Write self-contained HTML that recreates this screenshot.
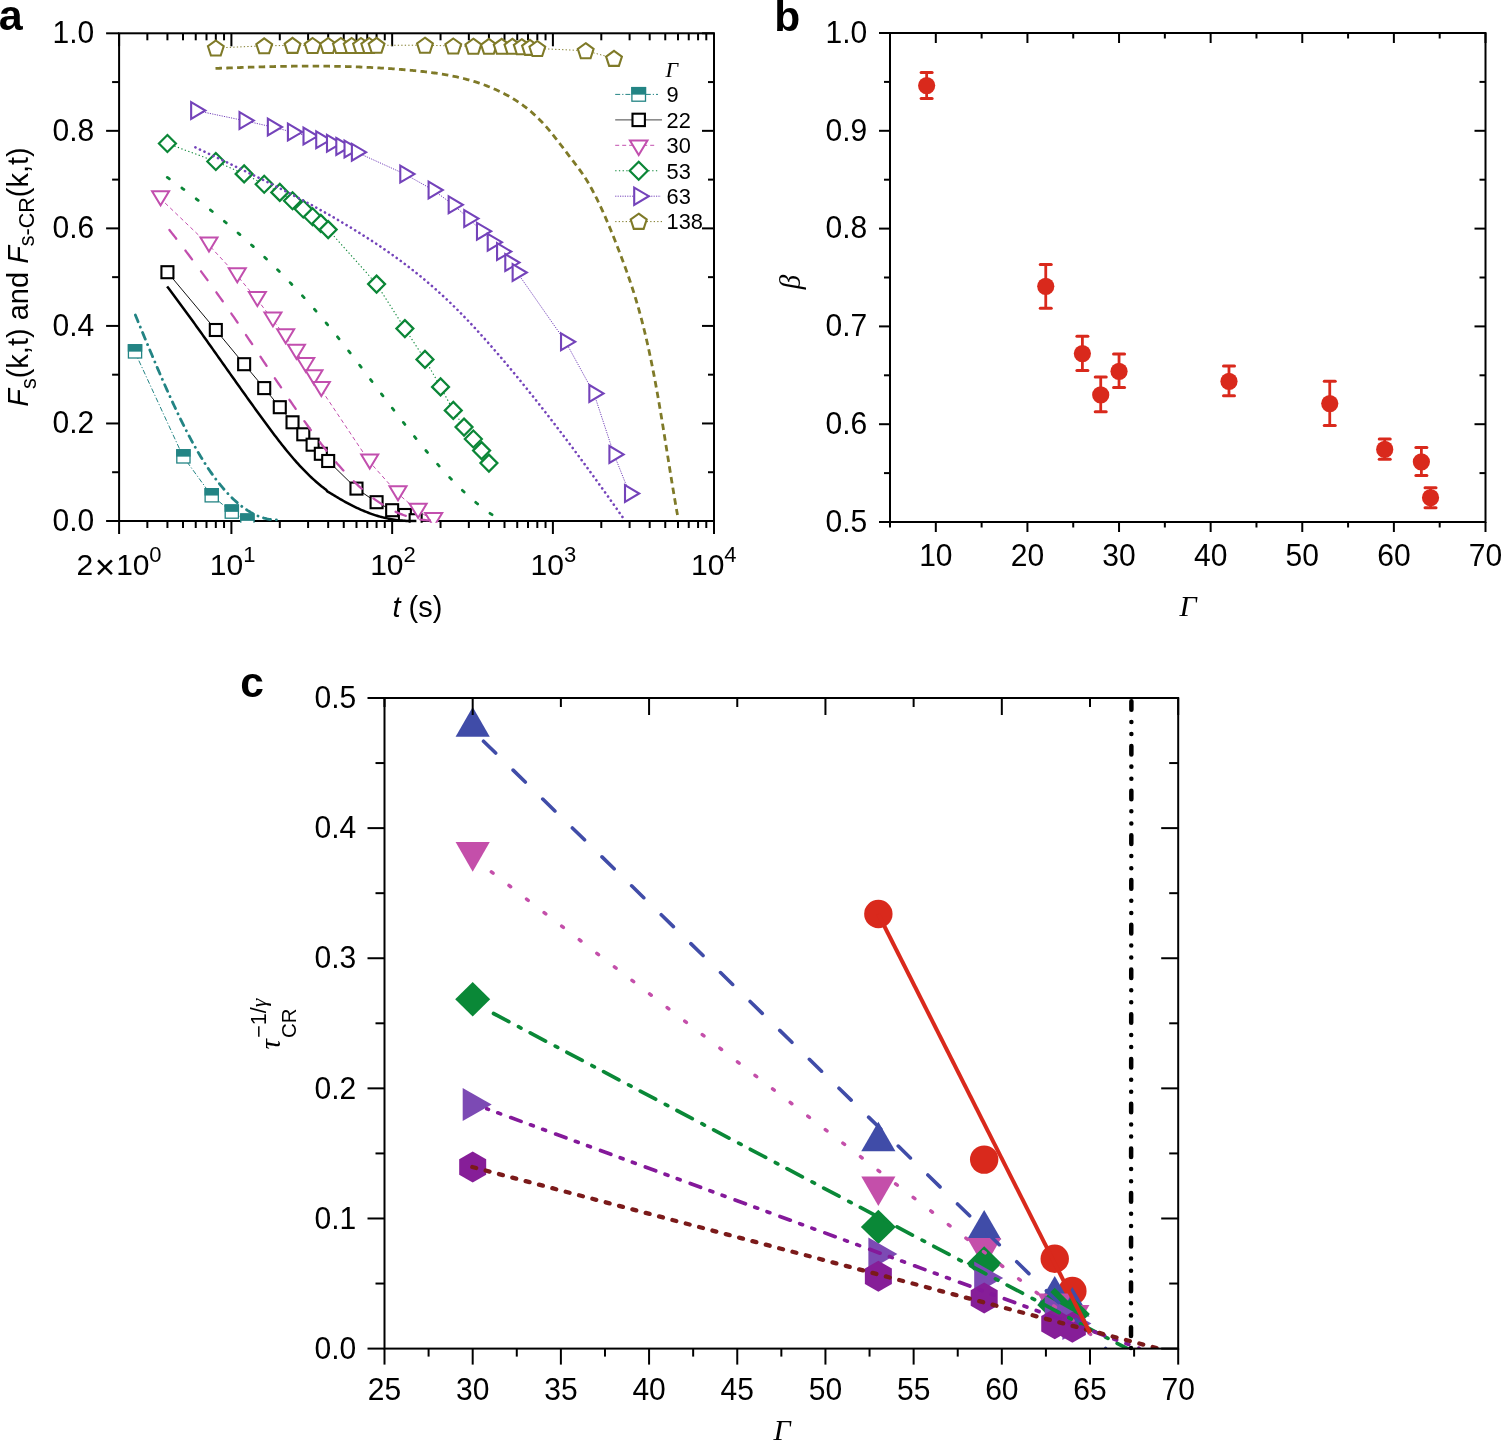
<!DOCTYPE html>
<html><head><meta charset="utf-8"><title>Figure</title>
<style>html,body{margin:0;padding:0;background:#fff;}svg{display:block;}</style></head>
<body><svg width="1501" height="1440" viewBox="0 0 1501 1440">
<rect width="1501" height="1440" fill="#fff"/>
<defs><clipPath id="ca"><rect x="118.1" y="32.3" width="596.9" height="490.4"/></clipPath><clipPath id="cc"><rect x="384.3" y="698" width="794" height="650.6"/></clipPath></defs>
<rect x="119.1" y="33.3" width="594.9" height="487.7" fill="none" stroke="#000" stroke-width="2"/>
<line x1="106.1" y1="521" x2="119.1" y2="521" stroke="#000" stroke-width="2" />
<line x1="702" y1="521" x2="714" y2="521" stroke="#000" stroke-width="2" />
<text transform="translate(94.3,530.7) scale(1,1.06)" x="0" y="0" font-size="30" text-anchor="end" font-family="'Liberation Sans', Arial, sans-serif">0.0</text>
<line x1="112.1" y1="472.23" x2="119.1" y2="472.23" stroke="#000" stroke-width="2" />
<line x1="708" y1="472.23" x2="714" y2="472.23" stroke="#000" stroke-width="2" />
<line x1="106.1" y1="423.46" x2="119.1" y2="423.46" stroke="#000" stroke-width="2" />
<line x1="702" y1="423.46" x2="714" y2="423.46" stroke="#000" stroke-width="2" />
<text transform="translate(94.3,433.16) scale(1,1.06)" x="0" y="0" font-size="30" text-anchor="end" font-family="'Liberation Sans', Arial, sans-serif">0.2</text>
<line x1="112.1" y1="374.69" x2="119.1" y2="374.69" stroke="#000" stroke-width="2" />
<line x1="708" y1="374.69" x2="714" y2="374.69" stroke="#000" stroke-width="2" />
<line x1="106.1" y1="325.92" x2="119.1" y2="325.92" stroke="#000" stroke-width="2" />
<line x1="702" y1="325.92" x2="714" y2="325.92" stroke="#000" stroke-width="2" />
<text transform="translate(94.3,335.62) scale(1,1.06)" x="0" y="0" font-size="30" text-anchor="end" font-family="'Liberation Sans', Arial, sans-serif">0.4</text>
<line x1="112.1" y1="277.15" x2="119.1" y2="277.15" stroke="#000" stroke-width="2" />
<line x1="708" y1="277.15" x2="714" y2="277.15" stroke="#000" stroke-width="2" />
<line x1="106.1" y1="228.38" x2="119.1" y2="228.38" stroke="#000" stroke-width="2" />
<line x1="702" y1="228.38" x2="714" y2="228.38" stroke="#000" stroke-width="2" />
<text transform="translate(94.3,238.08) scale(1,1.06)" x="0" y="0" font-size="30" text-anchor="end" font-family="'Liberation Sans', Arial, sans-serif">0.6</text>
<line x1="112.1" y1="179.61" x2="119.1" y2="179.61" stroke="#000" stroke-width="2" />
<line x1="708" y1="179.61" x2="714" y2="179.61" stroke="#000" stroke-width="2" />
<line x1="106.1" y1="130.84" x2="119.1" y2="130.84" stroke="#000" stroke-width="2" />
<line x1="702" y1="130.84" x2="714" y2="130.84" stroke="#000" stroke-width="2" />
<text transform="translate(94.3,140.54) scale(1,1.06)" x="0" y="0" font-size="30" text-anchor="end" font-family="'Liberation Sans', Arial, sans-serif">0.8</text>
<line x1="112.1" y1="82.07" x2="119.1" y2="82.07" stroke="#000" stroke-width="2" />
<line x1="708" y1="82.07" x2="714" y2="82.07" stroke="#000" stroke-width="2" />
<line x1="106.1" y1="33.3" x2="119.1" y2="33.3" stroke="#000" stroke-width="2" />
<line x1="702" y1="33.3" x2="714" y2="33.3" stroke="#000" stroke-width="2" />
<text transform="translate(94.3,43) scale(1,1.06)" x="0" y="0" font-size="30" text-anchor="end" font-family="'Liberation Sans', Arial, sans-serif">1.0</text>
<line x1="119.1" y1="521" x2="119.1" y2="534" stroke="#000" stroke-width="2" />
<line x1="119.1" y1="33.3" x2="119.1" y2="46.3" stroke="#000" stroke-width="2" />
<line x1="147.35" y1="521" x2="147.35" y2="528" stroke="#000" stroke-width="2" />
<line x1="147.35" y1="33.3" x2="147.35" y2="40.3" stroke="#000" stroke-width="2" />
<line x1="167.43" y1="521" x2="167.43" y2="528" stroke="#000" stroke-width="2" />
<line x1="167.43" y1="33.3" x2="167.43" y2="40.3" stroke="#000" stroke-width="2" />
<line x1="183.01" y1="521" x2="183.01" y2="528" stroke="#000" stroke-width="2" />
<line x1="183.01" y1="33.3" x2="183.01" y2="40.3" stroke="#000" stroke-width="2" />
<line x1="195.74" y1="521" x2="195.74" y2="528" stroke="#000" stroke-width="2" />
<line x1="195.74" y1="33.3" x2="195.74" y2="40.3" stroke="#000" stroke-width="2" />
<line x1="206.5" y1="521" x2="206.5" y2="528" stroke="#000" stroke-width="2" />
<line x1="206.5" y1="33.3" x2="206.5" y2="40.3" stroke="#000" stroke-width="2" />
<line x1="215.82" y1="521" x2="215.82" y2="528" stroke="#000" stroke-width="2" />
<line x1="215.82" y1="33.3" x2="215.82" y2="40.3" stroke="#000" stroke-width="2" />
<line x1="224.04" y1="521" x2="224.04" y2="528" stroke="#000" stroke-width="2" />
<line x1="224.04" y1="33.3" x2="224.04" y2="40.3" stroke="#000" stroke-width="2" />
<line x1="231.4" y1="521" x2="231.4" y2="534" stroke="#000" stroke-width="2" />
<line x1="231.4" y1="33.3" x2="231.4" y2="46.3" stroke="#000" stroke-width="2" />
<line x1="279.79" y1="521" x2="279.79" y2="528" stroke="#000" stroke-width="2" />
<line x1="279.79" y1="33.3" x2="279.79" y2="40.3" stroke="#000" stroke-width="2" />
<line x1="308.1" y1="521" x2="308.1" y2="528" stroke="#000" stroke-width="2" />
<line x1="308.1" y1="33.3" x2="308.1" y2="40.3" stroke="#000" stroke-width="2" />
<line x1="328.18" y1="521" x2="328.18" y2="528" stroke="#000" stroke-width="2" />
<line x1="328.18" y1="33.3" x2="328.18" y2="40.3" stroke="#000" stroke-width="2" />
<line x1="343.76" y1="521" x2="343.76" y2="528" stroke="#000" stroke-width="2" />
<line x1="343.76" y1="33.3" x2="343.76" y2="40.3" stroke="#000" stroke-width="2" />
<line x1="356.49" y1="521" x2="356.49" y2="528" stroke="#000" stroke-width="2" />
<line x1="356.49" y1="33.3" x2="356.49" y2="40.3" stroke="#000" stroke-width="2" />
<line x1="367.25" y1="521" x2="367.25" y2="528" stroke="#000" stroke-width="2" />
<line x1="367.25" y1="33.3" x2="367.25" y2="40.3" stroke="#000" stroke-width="2" />
<line x1="376.57" y1="521" x2="376.57" y2="528" stroke="#000" stroke-width="2" />
<line x1="376.57" y1="33.3" x2="376.57" y2="40.3" stroke="#000" stroke-width="2" />
<line x1="384.79" y1="521" x2="384.79" y2="528" stroke="#000" stroke-width="2" />
<line x1="384.79" y1="33.3" x2="384.79" y2="40.3" stroke="#000" stroke-width="2" />
<line x1="392.15" y1="521" x2="392.15" y2="534" stroke="#000" stroke-width="2" />
<line x1="392.15" y1="33.3" x2="392.15" y2="46.3" stroke="#000" stroke-width="2" />
<line x1="440.54" y1="521" x2="440.54" y2="528" stroke="#000" stroke-width="2" />
<line x1="440.54" y1="33.3" x2="440.54" y2="40.3" stroke="#000" stroke-width="2" />
<line x1="468.85" y1="521" x2="468.85" y2="528" stroke="#000" stroke-width="2" />
<line x1="468.85" y1="33.3" x2="468.85" y2="40.3" stroke="#000" stroke-width="2" />
<line x1="488.93" y1="521" x2="488.93" y2="528" stroke="#000" stroke-width="2" />
<line x1="488.93" y1="33.3" x2="488.93" y2="40.3" stroke="#000" stroke-width="2" />
<line x1="504.51" y1="521" x2="504.51" y2="528" stroke="#000" stroke-width="2" />
<line x1="504.51" y1="33.3" x2="504.51" y2="40.3" stroke="#000" stroke-width="2" />
<line x1="517.24" y1="521" x2="517.24" y2="528" stroke="#000" stroke-width="2" />
<line x1="517.24" y1="33.3" x2="517.24" y2="40.3" stroke="#000" stroke-width="2" />
<line x1="528" y1="521" x2="528" y2="528" stroke="#000" stroke-width="2" />
<line x1="528" y1="33.3" x2="528" y2="40.3" stroke="#000" stroke-width="2" />
<line x1="537.32" y1="521" x2="537.32" y2="528" stroke="#000" stroke-width="2" />
<line x1="537.32" y1="33.3" x2="537.32" y2="40.3" stroke="#000" stroke-width="2" />
<line x1="545.54" y1="521" x2="545.54" y2="528" stroke="#000" stroke-width="2" />
<line x1="545.54" y1="33.3" x2="545.54" y2="40.3" stroke="#000" stroke-width="2" />
<line x1="552.9" y1="521" x2="552.9" y2="534" stroke="#000" stroke-width="2" />
<line x1="552.9" y1="33.3" x2="552.9" y2="46.3" stroke="#000" stroke-width="2" />
<line x1="601.29" y1="521" x2="601.29" y2="528" stroke="#000" stroke-width="2" />
<line x1="601.29" y1="33.3" x2="601.29" y2="40.3" stroke="#000" stroke-width="2" />
<line x1="629.6" y1="521" x2="629.6" y2="528" stroke="#000" stroke-width="2" />
<line x1="629.6" y1="33.3" x2="629.6" y2="40.3" stroke="#000" stroke-width="2" />
<line x1="649.68" y1="521" x2="649.68" y2="528" stroke="#000" stroke-width="2" />
<line x1="649.68" y1="33.3" x2="649.68" y2="40.3" stroke="#000" stroke-width="2" />
<line x1="665.26" y1="521" x2="665.26" y2="528" stroke="#000" stroke-width="2" />
<line x1="665.26" y1="33.3" x2="665.26" y2="40.3" stroke="#000" stroke-width="2" />
<line x1="677.99" y1="521" x2="677.99" y2="528" stroke="#000" stroke-width="2" />
<line x1="677.99" y1="33.3" x2="677.99" y2="40.3" stroke="#000" stroke-width="2" />
<line x1="688.75" y1="521" x2="688.75" y2="528" stroke="#000" stroke-width="2" />
<line x1="688.75" y1="33.3" x2="688.75" y2="40.3" stroke="#000" stroke-width="2" />
<line x1="698.07" y1="521" x2="698.07" y2="528" stroke="#000" stroke-width="2" />
<line x1="698.07" y1="33.3" x2="698.07" y2="40.3" stroke="#000" stroke-width="2" />
<line x1="706.29" y1="521" x2="706.29" y2="528" stroke="#000" stroke-width="2" />
<line x1="706.29" y1="33.3" x2="706.29" y2="40.3" stroke="#000" stroke-width="2" />
<line x1="714" y1="521" x2="714" y2="534" stroke="#000" stroke-width="2" />
<line x1="714" y1="33.3" x2="714" y2="46.3" stroke="#000" stroke-width="2" />
<g clip-path="url(#ca)">
<path d="M134.62,351.4 L183.01,456.4 L211.32,495.3 L231.4,511.6 L246.98,520.6" fill="none" stroke="#238484" stroke-width="1" stroke-dasharray="5 2 1.2 2"/>
<path d="M167.43,272.2 L215.82,330 L244.13,364.2 L264.21,388.1 L279.79,407.2 L292.52,422.3 L303.28,434.3 L312.6,444.7 L320.83,453.8 L328.18,461 L356.49,488.6 L376.57,502.2 L392.15,510.2 L404.88,515 L415.64,520.2" fill="none" stroke="#111" stroke-width="1" />
<path d="M160.08,198.2 L208.47,244.6 L236.77,275.2 L256.86,299.1 L272.44,319.4 L285.16,336.2 L295.93,351.7 L305.25,364.9 L313.47,377.2 L320.83,389 L369.22,461.5 L397.52,493.2 L417.61,510.8 L433.19,520" fill="none" stroke="#c24fae" stroke-width="1" stroke-dasharray="4 3"/>
<path d="M167.43,143.5 L215.82,161.5 L244.13,173.9 L264.21,184.2 L279.79,192.4 L292.52,200.7 L303.28,209 L312.6,216.8 L320.83,223.4 L328.18,229.6 L376.57,284.1 L404.88,328.6 L424.96,359.4 L440.54,386.9 L453.27,410.4 L464.03,427.1 L473.35,439 L481.58,450.6 L488.93,463.1" fill="none" stroke="#0b8637" stroke-width="1.1" stroke-dasharray="1.3 2.4"/>
<path d="M195.74,110.5 L244.13,120.6 L272.44,127 L292.52,132.1 L308.1,136.1 L320.83,139.8 L331.59,143.3 L340.91,146.4 L349.13,149.1 L356.49,152.2 L404.88,174.1 L433.19,190 L453.27,204.8 L468.85,218.6 L481.58,231.2 L492.34,242.2 L501.66,251.6 L509.88,262.6 L517.24,272.5 L565.63,341.8 L593.94,393.4 L614.02,454.4 L629.6,493.5" fill="none" stroke="#7443ba" stroke-width="1" stroke-dasharray="1.2 1.2"/>
<path d="M215.82,48 L264.21,45.8 L292.52,45.4 L312.6,45.5 L328.18,45.5 L340.91,45.5 L351.67,45.5 L360.99,45.5 L369.22,45.5 L376.57,45.3 L424.96,45.2 L453.27,46 L473.35,46.2 L488.93,46.3 L501.66,46.3 L512.42,46.3 L521.74,46.7 L529.97,47.4 L537.32,48.5 L585.71,50.7 L614.02,58.4" fill="none" stroke="#7f7a28" stroke-width="1" stroke-dasharray="1.3 2.2"/>
<rect x="128.42" y="344.8" width="13.2" height="13.2" fill="#fff" stroke="#238484" stroke-width="1.3"/>
<rect x="127.77" y="344.15" width="14.5" height="7.5" fill="#238484"/>
<rect x="176.81" y="449.8" width="13.2" height="13.2" fill="#fff" stroke="#238484" stroke-width="1.3"/>
<rect x="176.16" y="449.15" width="14.5" height="7.5" fill="#238484"/>
<rect x="205.12" y="488.7" width="13.2" height="13.2" fill="#fff" stroke="#238484" stroke-width="1.3"/>
<rect x="204.47" y="488.05" width="14.5" height="7.5" fill="#238484"/>
<rect x="225.2" y="505" width="13.2" height="13.2" fill="#fff" stroke="#238484" stroke-width="1.3"/>
<rect x="224.55" y="504.35" width="14.5" height="7.5" fill="#238484"/>
<rect x="240.78" y="514" width="13.2" height="13.2" fill="#fff" stroke="#238484" stroke-width="1.3"/>
<rect x="240.13" y="513.35" width="14.5" height="7.5" fill="#238484"/>
<rect x="161.43" y="266.2" width="12" height="12" fill="#fff" stroke="#000" stroke-width="2.1"/>
<rect x="209.82" y="324" width="12" height="12" fill="#fff" stroke="#000" stroke-width="2.1"/>
<rect x="238.13" y="358.2" width="12" height="12" fill="#fff" stroke="#000" stroke-width="2.1"/>
<rect x="258.21" y="382.1" width="12" height="12" fill="#fff" stroke="#000" stroke-width="2.1"/>
<rect x="273.79" y="401.2" width="12" height="12" fill="#fff" stroke="#000" stroke-width="2.1"/>
<rect x="286.52" y="416.3" width="12" height="12" fill="#fff" stroke="#000" stroke-width="2.1"/>
<rect x="297.28" y="428.3" width="12" height="12" fill="#fff" stroke="#000" stroke-width="2.1"/>
<rect x="306.6" y="438.7" width="12" height="12" fill="#fff" stroke="#000" stroke-width="2.1"/>
<rect x="314.83" y="447.8" width="12" height="12" fill="#fff" stroke="#000" stroke-width="2.1"/>
<rect x="322.18" y="455" width="12" height="12" fill="#fff" stroke="#000" stroke-width="2.1"/>
<rect x="350.49" y="482.6" width="12" height="12" fill="#fff" stroke="#000" stroke-width="2.1"/>
<rect x="370.57" y="496.2" width="12" height="12" fill="#fff" stroke="#000" stroke-width="2.1"/>
<rect x="386.15" y="504.2" width="12" height="12" fill="#fff" stroke="#000" stroke-width="2.1"/>
<rect x="398.88" y="509" width="12" height="12" fill="#fff" stroke="#000" stroke-width="2.1"/>
<rect x="409.64" y="514.2" width="12" height="12" fill="#fff" stroke="#000" stroke-width="2.1"/>
<path d="M152.08,191.2 L169.08,191.2 L160.58,205.2Z" fill="#fff" stroke="#c24fae" stroke-width="2" stroke-linejoin="miter" />
<path d="M200.47,237.6 L217.47,237.6 L208.97,251.6Z" fill="#fff" stroke="#c24fae" stroke-width="2" stroke-linejoin="miter" />
<path d="M228.77,268.2 L245.77,268.2 L237.27,282.2Z" fill="#fff" stroke="#c24fae" stroke-width="2" stroke-linejoin="miter" />
<path d="M248.86,292.1 L265.86,292.1 L257.36,306.1Z" fill="#fff" stroke="#c24fae" stroke-width="2" stroke-linejoin="miter" />
<path d="M264.44,312.4 L281.44,312.4 L272.94,326.4Z" fill="#fff" stroke="#c24fae" stroke-width="2" stroke-linejoin="miter" />
<path d="M277.16,329.2 L294.16,329.2 L285.66,343.2Z" fill="#fff" stroke="#c24fae" stroke-width="2" stroke-linejoin="miter" />
<path d="M287.93,344.7 L304.93,344.7 L296.43,358.7Z" fill="#fff" stroke="#c24fae" stroke-width="2" stroke-linejoin="miter" />
<path d="M297.25,357.9 L314.25,357.9 L305.75,371.9Z" fill="#fff" stroke="#c24fae" stroke-width="2" stroke-linejoin="miter" />
<path d="M305.47,370.2 L322.47,370.2 L313.97,384.2Z" fill="#fff" stroke="#c24fae" stroke-width="2" stroke-linejoin="miter" />
<path d="M312.83,382 L329.83,382 L321.33,396Z" fill="#fff" stroke="#c24fae" stroke-width="2" stroke-linejoin="miter" />
<path d="M361.22,454.5 L378.22,454.5 L369.72,468.5Z" fill="#fff" stroke="#c24fae" stroke-width="2" stroke-linejoin="miter" />
<path d="M389.52,486.2 L406.52,486.2 L398.02,500.2Z" fill="#fff" stroke="#c24fae" stroke-width="2" stroke-linejoin="miter" />
<path d="M409.61,503.8 L426.61,503.8 L418.11,517.8Z" fill="#fff" stroke="#c24fae" stroke-width="2" stroke-linejoin="miter" />
<path d="M425.19,513 L442.19,513 L433.69,527Z" fill="#fff" stroke="#c24fae" stroke-width="2" stroke-linejoin="miter" />
<path d="M167.43,135 L175.93,143.5 L167.43,152 L158.93,143.5Z" fill="#fff" stroke="#0b8637" stroke-width="2.2" stroke-linejoin="miter" />
<path d="M215.82,153 L224.32,161.5 L215.82,170 L207.32,161.5Z" fill="#fff" stroke="#0b8637" stroke-width="2.2" stroke-linejoin="miter" />
<path d="M244.13,165.4 L252.63,173.9 L244.13,182.4 L235.63,173.9Z" fill="#fff" stroke="#0b8637" stroke-width="2.2" stroke-linejoin="miter" />
<path d="M264.21,175.7 L272.71,184.2 L264.21,192.7 L255.71,184.2Z" fill="#fff" stroke="#0b8637" stroke-width="2.2" stroke-linejoin="miter" />
<path d="M279.79,183.9 L288.29,192.4 L279.79,200.9 L271.29,192.4Z" fill="#fff" stroke="#0b8637" stroke-width="2.2" stroke-linejoin="miter" />
<path d="M292.52,192.2 L301.02,200.7 L292.52,209.2 L284.02,200.7Z" fill="#fff" stroke="#0b8637" stroke-width="2.2" stroke-linejoin="miter" />
<path d="M303.28,200.5 L311.78,209 L303.28,217.5 L294.78,209Z" fill="#fff" stroke="#0b8637" stroke-width="2.2" stroke-linejoin="miter" />
<path d="M312.6,208.3 L321.1,216.8 L312.6,225.3 L304.1,216.8Z" fill="#fff" stroke="#0b8637" stroke-width="2.2" stroke-linejoin="miter" />
<path d="M320.83,214.9 L329.33,223.4 L320.83,231.9 L312.33,223.4Z" fill="#fff" stroke="#0b8637" stroke-width="2.2" stroke-linejoin="miter" />
<path d="M328.18,221.1 L336.68,229.6 L328.18,238.1 L319.68,229.6Z" fill="#fff" stroke="#0b8637" stroke-width="2.2" stroke-linejoin="miter" />
<path d="M376.57,275.6 L385.07,284.1 L376.57,292.6 L368.07,284.1Z" fill="#fff" stroke="#0b8637" stroke-width="2.2" stroke-linejoin="miter" />
<path d="M404.88,320.1 L413.38,328.6 L404.88,337.1 L396.38,328.6Z" fill="#fff" stroke="#0b8637" stroke-width="2.2" stroke-linejoin="miter" />
<path d="M424.96,350.9 L433.46,359.4 L424.96,367.9 L416.46,359.4Z" fill="#fff" stroke="#0b8637" stroke-width="2.2" stroke-linejoin="miter" />
<path d="M440.54,378.4 L449.04,386.9 L440.54,395.4 L432.04,386.9Z" fill="#fff" stroke="#0b8637" stroke-width="2.2" stroke-linejoin="miter" />
<path d="M453.27,401.9 L461.77,410.4 L453.27,418.9 L444.77,410.4Z" fill="#fff" stroke="#0b8637" stroke-width="2.2" stroke-linejoin="miter" />
<path d="M464.03,418.6 L472.53,427.1 L464.03,435.6 L455.53,427.1Z" fill="#fff" stroke="#0b8637" stroke-width="2.2" stroke-linejoin="miter" />
<path d="M473.35,430.5 L481.85,439 L473.35,447.5 L464.85,439Z" fill="#fff" stroke="#0b8637" stroke-width="2.2" stroke-linejoin="miter" />
<path d="M481.58,442.1 L490.08,450.6 L481.58,459.1 L473.08,450.6Z" fill="#fff" stroke="#0b8637" stroke-width="2.2" stroke-linejoin="miter" />
<path d="M488.93,454.6 L497.43,463.1 L488.93,471.6 L480.43,463.1Z" fill="#fff" stroke="#0b8637" stroke-width="2.2" stroke-linejoin="miter" />
<path d="M191.14,102.1 L205.34,110.5 L191.14,118.9Z" fill="#fff" stroke="#7443ba" stroke-width="2.1" stroke-linejoin="miter" />
<path d="M239.53,112.2 L253.73,120.6 L239.53,129Z" fill="#fff" stroke="#7443ba" stroke-width="2.1" stroke-linejoin="miter" />
<path d="M267.84,118.6 L282.04,127 L267.84,135.4Z" fill="#fff" stroke="#7443ba" stroke-width="2.1" stroke-linejoin="miter" />
<path d="M287.92,123.7 L302.12,132.1 L287.92,140.5Z" fill="#fff" stroke="#7443ba" stroke-width="2.1" stroke-linejoin="miter" />
<path d="M303.5,127.7 L317.7,136.1 L303.5,144.5Z" fill="#fff" stroke="#7443ba" stroke-width="2.1" stroke-linejoin="miter" />
<path d="M316.23,131.4 L330.43,139.8 L316.23,148.2Z" fill="#fff" stroke="#7443ba" stroke-width="2.1" stroke-linejoin="miter" />
<path d="M326.99,134.9 L341.19,143.3 L326.99,151.7Z" fill="#fff" stroke="#7443ba" stroke-width="2.1" stroke-linejoin="miter" />
<path d="M336.31,138 L350.51,146.4 L336.31,154.8Z" fill="#fff" stroke="#7443ba" stroke-width="2.1" stroke-linejoin="miter" />
<path d="M344.53,140.7 L358.73,149.1 L344.53,157.5Z" fill="#fff" stroke="#7443ba" stroke-width="2.1" stroke-linejoin="miter" />
<path d="M351.89,143.8 L366.09,152.2 L351.89,160.6Z" fill="#fff" stroke="#7443ba" stroke-width="2.1" stroke-linejoin="miter" />
<path d="M400.28,165.7 L414.48,174.1 L400.28,182.5Z" fill="#fff" stroke="#7443ba" stroke-width="2.1" stroke-linejoin="miter" />
<path d="M428.59,181.6 L442.79,190 L428.59,198.4Z" fill="#fff" stroke="#7443ba" stroke-width="2.1" stroke-linejoin="miter" />
<path d="M448.67,196.4 L462.87,204.8 L448.67,213.2Z" fill="#fff" stroke="#7443ba" stroke-width="2.1" stroke-linejoin="miter" />
<path d="M464.25,210.2 L478.45,218.6 L464.25,227Z" fill="#fff" stroke="#7443ba" stroke-width="2.1" stroke-linejoin="miter" />
<path d="M476.98,222.8 L491.18,231.2 L476.98,239.6Z" fill="#fff" stroke="#7443ba" stroke-width="2.1" stroke-linejoin="miter" />
<path d="M487.74,233.8 L501.94,242.2 L487.74,250.6Z" fill="#fff" stroke="#7443ba" stroke-width="2.1" stroke-linejoin="miter" />
<path d="M497.06,243.2 L511.26,251.6 L497.06,260Z" fill="#fff" stroke="#7443ba" stroke-width="2.1" stroke-linejoin="miter" />
<path d="M505.28,254.2 L519.48,262.6 L505.28,271Z" fill="#fff" stroke="#7443ba" stroke-width="2.1" stroke-linejoin="miter" />
<path d="M512.64,264.1 L526.84,272.5 L512.64,280.9Z" fill="#fff" stroke="#7443ba" stroke-width="2.1" stroke-linejoin="miter" />
<path d="M561.03,333.4 L575.23,341.8 L561.03,350.2Z" fill="#fff" stroke="#7443ba" stroke-width="2.1" stroke-linejoin="miter" />
<path d="M589.34,385 L603.54,393.4 L589.34,401.8Z" fill="#fff" stroke="#7443ba" stroke-width="2.1" stroke-linejoin="miter" />
<path d="M609.42,446 L623.62,454.4 L609.42,462.8Z" fill="#fff" stroke="#7443ba" stroke-width="2.1" stroke-linejoin="miter" />
<path d="M625,485.1 L639.2,493.5 L625,501.9Z" fill="#fff" stroke="#7443ba" stroke-width="2.1" stroke-linejoin="miter" />
<path d="M215.82,40.5 L223.72,46.24 L220.7,55.51 L210.94,55.51 L207.93,46.24Z" fill="#fff" stroke="#7f7a28" stroke-width="2.1" stroke-linejoin="miter" />
<path d="M264.21,38.3 L272.11,44.04 L269.09,53.31 L259.33,53.31 L256.32,44.04Z" fill="#fff" stroke="#7f7a28" stroke-width="2.1" stroke-linejoin="miter" />
<path d="M292.52,37.9 L300.41,43.64 L297.4,52.91 L287.64,52.91 L284.63,43.64Z" fill="#fff" stroke="#7f7a28" stroke-width="2.1" stroke-linejoin="miter" />
<path d="M312.6,38 L320.5,43.74 L317.48,53.01 L307.72,53.01 L304.71,43.74Z" fill="#fff" stroke="#7f7a28" stroke-width="2.1" stroke-linejoin="miter" />
<path d="M328.18,38 L336.07,43.74 L333.06,53.01 L323.3,53.01 L320.29,43.74Z" fill="#fff" stroke="#7f7a28" stroke-width="2.1" stroke-linejoin="miter" />
<path d="M340.91,38 L348.8,43.74 L345.79,53.01 L336.03,53.01 L333.02,43.74Z" fill="#fff" stroke="#7f7a28" stroke-width="2.1" stroke-linejoin="miter" />
<path d="M351.67,38 L359.56,43.74 L356.55,53.01 L346.79,53.01 L343.78,43.74Z" fill="#fff" stroke="#7f7a28" stroke-width="2.1" stroke-linejoin="miter" />
<path d="M360.99,38 L368.89,43.74 L365.87,53.01 L356.11,53.01 L353.1,43.74Z" fill="#fff" stroke="#7f7a28" stroke-width="2.1" stroke-linejoin="miter" />
<path d="M369.22,38 L377.11,43.74 L374.09,53.01 L364.34,53.01 L361.32,43.74Z" fill="#fff" stroke="#7f7a28" stroke-width="2.1" stroke-linejoin="miter" />
<path d="M376.57,37.8 L384.47,43.54 L381.45,52.81 L371.69,52.81 L368.68,43.54Z" fill="#fff" stroke="#7f7a28" stroke-width="2.1" stroke-linejoin="miter" />
<path d="M424.96,37.7 L432.86,43.44 L429.84,52.71 L420.08,52.71 L417.07,43.44Z" fill="#fff" stroke="#7f7a28" stroke-width="2.1" stroke-linejoin="miter" />
<path d="M453.27,38.5 L461.16,44.24 L458.15,53.51 L448.39,53.51 L445.38,44.24Z" fill="#fff" stroke="#7f7a28" stroke-width="2.1" stroke-linejoin="miter" />
<path d="M473.35,38.7 L481.25,44.44 L478.23,53.71 L468.47,53.71 L465.46,44.44Z" fill="#fff" stroke="#7f7a28" stroke-width="2.1" stroke-linejoin="miter" />
<path d="M488.93,38.8 L496.82,44.54 L493.81,53.81 L484.05,53.81 L481.04,44.54Z" fill="#fff" stroke="#7f7a28" stroke-width="2.1" stroke-linejoin="miter" />
<path d="M501.66,38.8 L509.55,44.54 L506.54,53.81 L496.78,53.81 L493.77,44.54Z" fill="#fff" stroke="#7f7a28" stroke-width="2.1" stroke-linejoin="miter" />
<path d="M512.42,38.8 L520.31,44.54 L517.3,53.81 L507.54,53.81 L504.53,44.54Z" fill="#fff" stroke="#7f7a28" stroke-width="2.1" stroke-linejoin="miter" />
<path d="M521.74,39.2 L529.64,44.94 L526.62,54.21 L516.86,54.21 L513.85,44.94Z" fill="#fff" stroke="#7f7a28" stroke-width="2.1" stroke-linejoin="miter" />
<path d="M529.97,39.9 L537.86,45.64 L534.84,54.91 L525.09,54.91 L522.07,45.64Z" fill="#fff" stroke="#7f7a28" stroke-width="2.1" stroke-linejoin="miter" />
<path d="M537.32,41 L545.22,46.74 L542.2,56.01 L532.44,56.01 L529.43,46.74Z" fill="#fff" stroke="#7f7a28" stroke-width="2.1" stroke-linejoin="miter" />
<path d="M585.71,43.2 L593.61,48.94 L590.59,58.21 L580.83,58.21 L577.82,48.94Z" fill="#fff" stroke="#7f7a28" stroke-width="2.1" stroke-linejoin="miter" />
<path d="M614.02,50.9 L621.91,56.64 L618.9,65.91 L609.14,65.91 L606.13,56.64Z" fill="#fff" stroke="#7f7a28" stroke-width="2.1" stroke-linejoin="miter" />
<path d="M134.6,313.17 L136.07,316.76 L137.54,320.34 L139.01,323.91 L140.48,327.49 L141.95,331.05 L143.42,334.62 L144.89,338.17 L146.37,341.72 L147.84,345.25 L149.31,348.78 L150.78,352.29 L152.25,355.79 L153.72,359.28 L155.19,362.75 L156.66,366.2 L158.13,369.64 L159.6,373.06 L161.07,376.46 L162.54,379.84 L164.01,383.19 L165.48,386.53 L166.96,389.84 L168.43,393.12 L169.9,396.38 L171.37,399.61 L172.84,402.81 L174.31,405.98 L175.78,409.12 L177.25,412.23 L178.72,415.31 L180.19,418.35 L181.66,421.35 L183.13,424.32 L184.6,427.26 L186.07,430.15 L187.55,433 L189.02,435.82 L190.49,438.59 L191.96,441.32 L193.43,444 L194.9,446.64 L196.37,449.23 L197.84,451.78 L199.31,454.28 L200.78,456.73 L202.25,459.14 L203.72,461.5 L205.19,463.81 L206.66,466.08 L208.14,468.3 L209.61,470.47 L211.08,472.6 L212.55,474.68 L214.02,476.72 L215.49,478.71 L216.96,480.65 L218.43,482.54 L219.9,484.39 L221.37,486.2 L222.84,487.95 L224.31,489.66 L225.78,491.32 L227.25,492.94 L228.73,494.5 L230.2,496.03 L231.67,497.5 L233.14,498.93 L234.61,500.31 L236.08,501.64 L237.55,502.93 L239.02,504.17 L240.49,505.36 L241.96,506.51 L243.43,507.61 L244.9,508.66 L246.37,509.66 L247.84,510.62 L249.32,511.53 L250.79,512.4 L252.26,513.21 L253.73,513.98 L255.2,514.71 L256.67,515.38 L258.14,516.01 L259.61,516.59 L261.08,517.12 L262.55,517.61 L264.02,518.05 L265.49,518.44 L266.96,518.79 L268.43,519.08 L269.91,519.33 L271.38,519.53 L272.85,519.69 L274.32,519.8 L275.79,519.86 L277.26,519.87 L278.73,519.83 L280.2,519.75" fill="none" stroke="#238484" stroke-width="2.8" stroke-dasharray="7.2 5.8 0.1 5.8" stroke-dashoffset="-2" stroke-linecap="round"/>
<path d="M167.1,286.41 L168.57,288.35 L170.04,290.3 L171.52,292.26 L172.99,294.22 L174.46,296.19 L175.93,298.17 L177.41,300.15 L178.88,302.14 L180.35,304.14 L181.82,306.14 L183.3,308.14 L184.77,310.16 L186.24,312.17 L187.71,314.19 L189.19,316.22 L190.66,318.25 L192.13,320.29 L193.6,322.33 L195.08,324.37 L196.55,326.42 L198.02,328.47 L199.49,330.52 L200.97,332.58 L202.44,334.64 L203.91,336.7 L205.38,338.77 L206.86,340.84 L208.33,342.91 L209.8,344.98 L211.27,347.06 L212.75,349.13 L214.22,351.21 L215.69,353.29 L217.16,355.37 L218.64,357.45 L220.11,359.53 L221.58,361.61 L223.05,363.69 L224.53,365.77 L226,367.86 L227.47,369.94 L228.94,372.02 L230.42,374.1 L231.89,376.18 L233.36,378.26 L234.83,380.33 L236.31,382.41 L237.78,384.48 L239.25,386.56 L240.72,388.63 L242.2,390.7 L243.67,392.76 L245.14,394.82 L246.61,396.88 L248.09,398.94 L249.56,401 L251.03,403.05 L252.5,405.09 L253.98,407.14 L255.45,409.18 L256.92,411.21 L258.39,413.24 L259.87,415.27 L261.34,417.29 L262.81,419.31 L264.28,421.32 L265.76,423.32 L267.23,425.32 L268.7,427.31 L270.17,429.29 L271.65,431.26 L273.12,433.21 L274.59,435.16 L276.06,437.09 L277.54,439.01 L279.01,440.92 L280.48,442.81 L281.95,444.68 L283.43,446.54 L284.9,448.37 L286.37,450.19 L287.84,451.99 L289.32,453.77 L290.79,455.53 L292.26,457.26 L293.73,458.97 L295.21,460.65 L296.68,462.32 L298.15,463.95 L299.62,465.56 L301.1,467.14 L302.57,468.7 L304.04,470.23 L305.51,471.73 L306.99,473.21 L308.46,474.66 L309.93,476.08 L311.4,477.47 L312.88,478.84 L314.35,480.18 L315.82,481.49 L317.29,482.77 L318.77,484.02 L320.24,485.24 L321.71,486.43 L323.18,487.6 L324.66,488.73 L326.13,489.83 L327.6,491.6 L329.06,492.34 L330.51,493.25 L331.97,494.16 L333.42,495.05 L334.88,495.93 L336.33,496.8 L337.79,497.66 L339.25,498.51 L340.7,499.36 L342.16,500.18 L343.61,501 L345.07,501.81 L346.52,502.6 L347.98,503.38 L349.44,504.15 L350.89,504.9 L352.35,505.64 L353.8,506.37 L355.26,507.08 L356.71,507.78 L358.17,508.46 L359.63,509.12 L361.08,509.77 L362.54,510.41 L363.99,511.02 L365.45,511.62 L366.9,512.21 L368.36,512.77 L369.82,513.32 L371.27,513.85 L372.73,514.36 L374.18,514.85 L375.64,515.32 L377.1,515.77 L378.55,516.2 L380.01,516.62 L381.46,517.01 L382.92,517.39 L384.37,517.75 L385.83,518.08 L387.29,518.4 L388.74,518.71 L390.2,518.99 L391.65,519.25 L393.11,519.5 L394.56,519.73 L396.02,519.94 L397.48,520.13 L398.93,520.31 L400.39,520.47 L401.84,520.61 L403.3,520.73 L404.75,520.83 L406.21,520.92 L407.67,520.99 L409.12,521.05 L410.58,521.08 L412.03,521.1 L413.49,521.11 L414.94,521.09 L416.4,521.06" fill="none" stroke="#000" stroke-width="2.5" stroke-linejoin="round"/>
<path d="M161.3,219.63 L162.78,221.5 L164.27,223.38 L165.75,225.27 L167.24,227.16 L168.72,229.05 L170.21,230.94 L171.69,232.84 L173.18,234.75 L174.66,236.66 L176.15,238.57 L177.63,240.49 L179.11,242.41 L180.6,244.33 L182.08,246.26 L183.57,248.2 L185.05,250.14 L186.54,252.09 L188.02,254.04 L189.51,255.99 L190.99,257.95 L192.48,259.92 L193.96,261.89 L195.44,263.86 L196.93,265.85 L198.41,267.83 L199.9,269.83 L201.38,271.83 L202.87,273.83 L204.35,275.84 L205.84,277.86 L207.32,279.88 L208.8,281.91 L210.29,283.95 L211.77,285.99 L213.26,288.04 L214.74,290.09 L216.23,292.15 L217.71,294.22 L219.2,296.3 L220.68,298.38 L222.17,300.47 L223.65,302.56 L225.13,304.67 L226.62,306.78 L228.1,308.9 L229.59,311.02 L231.07,313.15 L232.56,315.29 L234.04,317.44 L235.53,319.6 L237.01,321.76 L238.5,323.93 L239.98,326.11 L241.46,328.29 L242.95,330.48 L244.43,332.68 L245.92,334.88 L247.4,337.08 L248.89,339.29 L250.37,341.5 L251.86,343.72 L253.34,345.94 L254.83,348.16 L256.31,350.39 L257.79,352.61 L259.28,354.84 L260.76,357.07 L262.25,359.3 L263.73,361.53 L265.22,363.76 L266.7,365.99 L268.19,368.22 L269.67,370.45 L271.16,372.67 L272.64,374.89 L274.12,377.11 L275.61,379.33 L277.09,381.55 L278.58,383.76 L280.06,385.96 L281.55,388.16 L283.03,390.36 L284.52,392.55 L286,394.74 L287.49,396.92 L288.97,399.09 L290.45,401.26 L291.94,403.41 L293.42,405.56 L294.91,407.71 L296.39,409.84 L297.88,411.96 L299.36,414.08 L300.85,416.18 L302.33,418.28 L303.81,420.36 L305.3,422.44 L306.78,424.5 L308.27,426.55 L309.75,428.59 L311.24,430.61 L312.72,432.62 L314.21,434.62 L315.69,436.61 L317.18,438.57 L318.66,440.53 L320.14,442.47 L321.63,444.39 L323.11,446.3 L324.6,448.19 L326.08,450.06 L327.57,451.92 L329.05,453.76 L330.54,455.57 L332.02,457.37 L333.51,459.15 L334.99,460.92 L336.47,462.66 L337.96,464.38 L339.44,466.07 L340.93,467.75 L342.41,469.41 L343.9,471.04 L345.38,472.65 L346.87,474.23 L348.35,475.8 L349.84,477.34 L351.32,478.85 L352.8,480.34 L354.29,481.81 L355.77,483.25 L357.26,484.66 L358.74,486.05 L360.23,487.41 L361.71,488.75 L363.2,490.06 L364.68,491.34 L366.17,492.6 L367.65,493.83 L369.13,495.03 L370.62,496.21 L372.1,497.35 L373.59,498.47 L375.07,499.56 L376.56,500.63 L378.04,501.66 L379.53,502.67 L381.01,503.65 L382.5,504.6 L383.98,505.52 L385.46,506.42 L386.95,507.29 L388.43,508.13 L389.92,508.94 L391.4,509.72 L392.89,510.48 L394.37,511.21 L395.86,511.91 L397.34,512.58 L398.82,513.23 L400.31,513.85 L401.79,514.44 L403.28,515 L404.76,515.54 L406.25,516.05 L407.73,516.53 L409.22,516.98 L410.7,517.41 L412.19,517.8 L413.67,518.17 L415.15,518.52 L416.64,518.83 L418.12,519.12 L419.61,519.38 L421.09,519.62 L422.58,519.82 L424.06,520 L425.55,520.15 L427.03,520.28 L428.52,520.37 L430,520.44" fill="none" stroke="#c24fae" stroke-width="2.3" stroke-dasharray="11 15" stroke-dashoffset="12.8" stroke-linecap="round"/>
<path d="M167.3,177.39 L168.79,178.46 L170.28,179.53 L171.77,180.61 L173.26,181.7 L174.75,182.78 L176.24,183.87 L177.73,184.96 L179.23,186.06 L180.72,187.16 L182.21,188.27 L183.7,189.37 L185.19,190.49 L186.68,191.6 L188.17,192.72 L189.66,193.85 L191.15,194.97 L192.64,196.11 L194.13,197.24 L195.62,198.38 L197.11,199.53 L198.6,200.68 L200.09,201.83 L201.59,202.99 L203.08,204.16 L204.57,205.33 L206.06,206.5 L207.55,207.68 L209.04,208.86 L210.53,210.05 L212.02,211.24 L213.51,212.44 L215,213.65 L216.49,214.86 L217.98,216.07 L219.47,217.29 L220.96,218.52 L222.45,219.75 L223.95,220.98 L225.44,222.23 L226.93,223.47 L228.42,224.73 L229.91,225.99 L231.4,227.25 L232.89,228.52 L234.38,229.8 L235.87,231.09 L237.36,232.38 L238.85,233.67 L240.34,234.98 L241.83,236.29 L243.32,237.6 L244.81,238.92 L246.31,240.25 L247.8,241.59 L249.29,242.93 L250.78,244.28 L252.27,245.64 L253.76,247 L255.25,248.37 L256.74,249.75 L258.23,251.13 L259.72,252.53 L261.21,253.92 L262.7,255.33 L264.19,256.74 L265.68,258.17 L267.17,259.6 L268.67,261.03 L270.16,262.48 L271.65,263.93 L273.14,265.39 L274.63,266.86 L276.12,268.33 L277.61,269.82 L279.1,271.31 L280.59,272.81 L282.08,274.32 L283.57,275.83 L285.06,277.36 L286.55,278.89 L288.04,280.43 L289.53,281.98 L291.03,283.54 L292.52,285.11 L294.01,286.69 L295.5,288.27 L296.99,289.87 L298.48,291.47 L299.97,293.08 L301.46,294.71 L302.95,296.34 L304.44,297.98 L305.93,299.63 L307.42,301.28 L308.91,302.95 L310.4,304.63 L311.89,306.32 L313.39,308.01 L314.88,309.72 L316.37,311.44 L317.86,313.16 L319.35,314.9 L320.84,316.65 L322.33,318.4 L323.82,320.17 L325.31,321.94 L326.8,323.73 L328.29,325.53 L329.78,327.34 L331.27,329.15 L332.76,330.98 L334.25,332.82 L335.75,334.66 L337.24,336.51 L338.73,338.38 L340.22,340.25 L341.71,342.12 L343.2,344.01 L344.69,345.9 L346.18,347.8 L347.67,349.71 L349.16,351.62 L350.65,353.53 L352.14,355.46 L353.63,357.38 L355.12,359.32 L356.61,361.25 L358.11,363.2 L359.6,365.14 L361.09,367.09 L362.58,369.04 L364.07,371 L365.56,372.95 L367.05,374.91 L368.54,376.87 L370.03,378.84 L371.52,380.8 L373.01,382.77 L374.5,384.73 L375.99,386.7 L377.48,388.67 L378.97,390.63 L380.47,392.6 L381.96,394.56 L383.45,396.53 L384.94,398.49 L386.43,400.45 L387.92,402.4 L389.41,404.36 L390.9,406.31 L392.39,408.26 L393.88,410.21 L395.37,412.15 L396.86,414.09 L398.35,416.02 L399.84,417.95 L401.33,419.87 L402.83,421.79 L404.32,423.7 L405.81,425.61 L407.3,427.51 L408.79,429.4 L410.28,431.29 L411.77,433.16 L413.26,435.04 L414.75,436.9 L416.24,438.75 L417.73,440.6 L419.22,442.44 L420.71,444.26 L422.2,446.08 L423.69,447.89 L425.19,449.69 L426.68,451.48 L428.17,453.25 L429.66,455.02 L431.15,456.77 L432.64,458.52 L434.13,460.25 L435.62,461.96 L437.11,463.67 L438.6,465.36 L440.09,467.04 L441.58,468.7 L443.07,470.36 L444.56,471.99 L446.05,473.61 L447.55,475.22 L449.04,476.81 L450.53,478.39 L452.02,479.95 L453.51,481.49 L455,483.02 L456.49,484.53 L457.98,486.02 L459.47,487.49 L460.96,488.95 L462.45,490.39 L463.94,491.81 L465.43,493.21 L466.92,494.6 L468.41,495.96 L469.91,497.3 L471.4,498.62 L472.89,499.93 L474.38,501.21 L475.87,502.47 L477.36,503.71 L478.85,504.93 L480.34,506.12 L481.83,507.3 L483.32,508.45 L484.81,509.57 L486.3,510.68 L487.79,511.76 L489.28,512.82 L490.77,513.85 L492.27,514.86 L493.76,515.84 L495.25,516.8 L496.74,517.73 L498.23,518.63 L499.72,519.51 L501.21,520.37 L502.7,521.19" fill="none" stroke="#0b8637" stroke-width="2.8" stroke-dasharray="2.5 15.5" stroke-linecap="round"/>
<path d="M195.4,147.4 L196.89,148.11 L198.38,148.82 L199.88,149.53 L201.37,150.24 L202.86,150.95 L204.35,151.66 L205.84,152.37 L207.33,153.08 L208.83,153.79 L210.32,154.5 L211.81,155.21 L213.3,155.92 L214.79,156.63 L216.28,157.33 L217.78,158.04 L219.27,158.76 L220.76,159.47 L222.25,160.18 L223.74,160.89 L225.23,161.6 L226.73,162.31 L228.22,163.03 L229.71,163.74 L231.2,164.45 L232.69,165.17 L234.18,165.88 L235.68,166.6 L237.17,167.32 L238.66,168.04 L240.15,168.75 L241.64,169.47 L243.13,170.19 L244.62,170.92 L246.12,171.64 L247.61,172.36 L249.1,173.09 L250.59,173.82 L252.08,174.54 L253.58,175.27 L255.07,176 L256.56,176.73 L258.05,177.47 L259.54,178.2 L261.03,178.94 L262.52,179.67 L264.02,180.41 L265.51,181.15 L267,181.9 L268.49,182.64 L269.98,183.39 L271.48,184.13 L272.97,184.88 L274.46,185.63 L275.95,186.39 L277.44,187.14 L278.93,187.9 L280.43,188.66 L281.92,189.42 L283.41,190.18 L284.9,190.95 L286.39,191.72 L287.88,192.49 L289.38,193.26 L290.87,194.04 L292.36,194.81 L293.85,195.59 L295.34,196.38 L296.83,197.16 L298.33,197.95 L299.82,198.74 L301.31,199.53 L302.8,200.33 L304.29,201.12 L305.78,201.93 L307.27,202.73 L308.77,203.54 L310.26,204.35 L311.75,205.16 L313.24,205.97 L314.73,206.79 L316.23,207.61 L317.72,208.44 L319.21,209.27 L320.7,210.1 L322.19,210.93 L323.68,211.77 L325.18,212.61 L326.67,213.46 L328.16,214.3 L329.65,215.15 L331.14,216.01 L332.63,216.87 L334.12,217.73 L335.62,218.6 L337.11,219.47 L338.6,220.34 L340.09,221.22 L341.58,222.1 L343.08,222.98 L344.57,223.87 L346.06,224.76 L347.55,225.66 L349.04,226.56 L350.53,227.46 L352.02,228.37 L353.52,229.29 L355.01,230.2 L356.5,231.12 L357.99,232.05 L359.48,232.98 L360.98,233.91 L362.47,234.85 L363.96,235.8 L365.45,236.75 L366.94,237.7 L368.43,238.66 L369.93,239.62 L371.42,240.59 L372.91,241.57 L374.4,242.55 L375.89,243.54 L377.38,244.53 L378.88,245.53 L380.37,246.53 L381.86,247.55 L383.35,248.56 L384.84,249.59 L386.33,250.62 L387.83,251.66 L389.32,252.7 L390.81,253.75 L392.3,254.81 L393.79,255.88 L395.28,256.95 L396.77,258.03 L398.27,259.12 L399.76,260.21 L401.25,261.32 L402.74,262.43 L404.23,263.55 L405.73,264.68 L407.22,265.82 L408.71,266.96 L410.2,268.11 L411.69,269.28 L413.18,270.45 L414.68,271.63 L416.17,272.82 L417.66,274.02 L419.15,275.23 L420.64,276.44 L422.13,277.67 L423.62,278.91 L425.12,280.16 L426.61,281.41 L428.1,282.68 L429.59,283.96 L431.08,285.25 L432.58,286.54 L434.07,287.85 L435.56,289.17 L437.05,290.5 L438.54,291.84 L440.03,293.2 L441.52,294.56 L443.02,295.94 L444.51,297.32 L446,298.72 L447.49,300.13 L448.98,301.55 L450.48,302.99 L451.97,304.43 L453.46,305.89 L454.95,307.36 L456.44,308.84 L457.93,310.33 L459.42,311.83 L460.92,313.35 L462.41,314.87 L463.9,316.4 L465.39,317.95 L466.88,319.51 L468.38,321.07 L469.87,322.65 L471.36,324.23 L472.85,325.83 L474.34,327.43 L475.83,329.04 L477.33,330.67 L478.82,332.3 L480.31,333.94 L481.8,335.59 L483.29,337.25 L484.78,338.91 L486.27,340.59 L487.77,342.27 L489.26,343.96 L490.75,345.66 L492.24,347.37 L493.73,349.08 L495.23,350.8 L496.72,352.53 L498.21,354.27 L499.7,356.01 L501.19,357.76 L502.68,359.52 L504.18,361.28 L505.67,363.05 L507.16,364.82 L508.65,366.6 L510.14,368.39 L511.63,370.18 L513.12,371.98 L514.62,373.78 L516.11,375.59 L517.6,377.41 L519.09,379.23 L520.58,381.05 L522.08,382.88 L523.57,384.72 L525.06,386.56 L526.55,388.41 L528.04,390.26 L529.53,392.12 L531.02,393.98 L532.52,395.85 L534.01,397.73 L535.5,399.6 L536.99,401.49 L538.48,403.38 L539.98,405.27 L541.47,407.17 L542.96,409.08 L544.45,410.98 L545.94,412.9 L547.43,414.82 L548.93,416.74 L550.42,418.67 L551.91,420.6 L553.4,422.54 L554.89,424.49 L556.38,426.43 L557.88,428.39 L559.37,430.34 L560.86,432.3 L562.35,434.27 L563.84,436.24 L565.33,438.22 L566.83,440.2 L568.32,442.18 L569.81,444.17 L571.3,446.16 L572.79,448.16 L574.28,450.16 L575.77,452.17 L577.27,454.18 L578.76,456.19 L580.25,458.21 L581.74,460.23 L583.23,462.26 L584.73,464.29 L586.22,466.32 L587.71,468.36 L589.2,470.41 L590.69,472.45 L592.18,474.5 L593.68,476.56 L595.17,478.62 L596.66,480.68 L598.15,482.75 L599.64,484.82 L601.13,486.89 L602.62,488.97 L604.12,491.05 L605.61,493.13 L607.1,495.22 L608.59,497.31 L610.08,499.41 L611.58,501.51 L613.07,503.61 L614.56,505.71 L616.05,507.82 L617.54,509.93 L619.03,512.05 L620.52,514.17 L622.02,516.29 L623.51,518.42 L625,520.54" fill="none" stroke="#7443ba" stroke-width="2.6" stroke-dasharray="0.1 4.9" stroke-linecap="round"/>
<path d="M215.5,68.45 L216.99,68.39 L218.48,68.33 L219.97,68.27 L221.46,68.21 L222.95,68.15 L224.44,68.1 L225.93,68.04 L227.42,67.98 L228.91,67.93 L230.4,67.87 L231.89,67.81 L233.38,67.76 L234.87,67.7 L236.36,67.65 L237.85,67.6 L239.35,67.55 L240.84,67.49 L242.33,67.44 L243.82,67.39 L245.31,67.34 L246.8,67.29 L248.29,67.24 L249.78,67.2 L251.27,67.15 L252.76,67.1 L254.25,67.06 L255.74,67.01 L257.23,66.97 L258.72,66.93 L260.21,66.89 L261.7,66.85 L263.19,66.8 L264.68,66.77 L266.17,66.73 L267.66,66.69 L269.15,66.65 L270.64,66.62 L272.13,66.58 L273.62,66.55 L275.11,66.52 L276.6,66.49 L278.09,66.46 L279.58,66.43 L281.07,66.4 L282.56,66.37 L284.05,66.35 L285.55,66.32 L287.04,66.3 L288.53,66.28 L290.02,66.26 L291.51,66.24 L293,66.22 L294.49,66.2 L295.98,66.19 L297.47,66.17 L298.96,66.16 L300.45,66.15 L301.94,66.14 L303.43,66.13 L304.92,66.12 L306.41,66.12 L307.9,66.11 L309.39,66.11 L310.88,66.11 L312.37,66.11 L313.86,66.11 L315.35,66.11 L316.84,66.12 L318.33,66.12 L319.82,66.13 L321.31,66.14 L322.8,66.15 L324.29,66.16 L325.78,66.18 L327.27,66.19 L328.76,66.21 L330.25,66.23 L331.75,66.25 L333.24,66.27 L334.73,66.3 L336.22,66.32 L337.71,66.35 L339.2,66.38 L340.69,66.41 L342.18,66.45 L343.67,66.48 L345.16,66.52 L346.65,66.56 L348.14,66.6 L349.63,66.64 L351.12,66.69 L352.61,66.73 L354.1,66.78 L355.59,66.83 L357.08,66.89 L358.57,66.94 L360.06,67 L361.55,67.06 L363.04,67.12 L364.53,67.18 L366.02,67.25 L367.51,67.32 L369,67.39 L370.49,67.46 L371.98,67.53 L373.47,67.61 L374.96,67.69 L376.45,67.77 L377.95,67.85 L379.44,67.94 L380.93,68.03 L382.42,68.12 L383.91,68.21 L385.4,68.3 L386.89,68.4 L388.38,68.5 L389.87,68.6 L391.36,68.71 L392.85,68.81 L394.34,68.92 L395.83,69.04 L397.32,69.15 L398.81,69.27 L400.3,69.39 L401.79,69.51 L403.28,69.63 L404.77,69.76 L406.26,69.89 L407.75,70.02 L409.24,70.16 L410.73,70.3 L412.22,70.44 L413.71,70.58 L415.2,70.73 L416.69,70.88 L418.18,71.03 L419.67,71.19 L421.16,71.35 L422.65,71.51 L424.15,71.68 L425.64,71.85 L427.13,72.03 L428.62,72.21 L430.11,72.4 L431.6,72.6 L433.09,72.8 L434.58,73 L436.07,73.21 L437.56,73.43 L439.05,73.66 L440.54,73.89 L442.03,74.13 L443.52,74.38 L445.01,74.63 L446.5,74.89 L447.99,75.16 L449.48,75.44 L450.97,75.73 L452.46,76.03 L453.95,76.33 L455.44,76.65 L456.93,76.97 L458.42,77.31 L459.91,77.65 L461.4,78.01 L462.89,78.37 L464.38,78.75 L465.87,79.14 L467.36,79.53 L468.85,79.95 L470.35,80.37 L471.84,80.8 L473.33,81.25 L474.82,81.71 L476.31,82.18 L477.8,82.67 L479.29,83.16 L480.78,83.68 L482.27,84.2 L483.76,84.74 L485.25,85.3 L486.74,85.86 L488.23,86.45 L489.72,87.04 L491.21,87.66 L492.7,88.29 L494.19,88.93 L495.68,89.59 L497.17,90.27 L498.66,90.96 L500.15,91.67 L501.64,92.4 L503.13,93.14 L504.62,93.91 L506.11,94.69 L507.6,95.5 L509.09,96.32 L510.58,97.18 L512.07,98.05 L513.56,98.95 L515.05,99.88 L516.55,100.83 L518.04,101.81 L519.53,102.82 L521.02,103.85 L522.51,104.92 L524,106.02 L525.49,107.15 L526.98,108.32 L528.47,109.52 L529.96,110.75 L531.45,112.02 L532.94,113.33 L534.43,114.67 L535.92,116.06 L537.41,117.48 L538.9,118.95 L540.39,120.45 L541.88,122 L543.37,123.59 L544.86,125.23 L546.35,126.91 L547.84,128.64 L549.33,130.4 L550.82,132.2 L552.31,134.03 L553.8,135.89 L555.29,137.77 L556.78,139.68 L558.27,141.61 L559.76,143.55 L561.25,145.5 L562.75,147.46 L564.24,149.43 L565.73,151.4 L567.22,153.37 L568.71,155.33 L570.2,157.29 L571.69,159.24 L573.18,161.17 L574.67,163.12 L576.16,165.07 L577.65,167.06 L579.14,169.08 L580.63,171.14 L582.12,173.27 L583.61,175.46 L585.1,177.74 L586.59,180.1 L588.08,182.56 L589.57,185.11 L591.06,187.76 L592.55,190.49 L594.04,193.31 L595.53,196.21 L597.02,199.19 L598.51,202.25 L600,205.39 L601.49,208.6 L602.98,211.88 L604.47,215.22 L605.96,218.64 L607.45,222.11 L608.95,225.64 L610.44,229.23 L611.93,232.88 L613.42,236.57 L614.91,240.32 L616.4,244.11 L617.89,247.95 L619.38,251.82 L620.87,255.74 L622.36,259.69 L623.85,263.69 L625.34,267.76 L626.83,271.9 L628.32,276.13 L629.81,280.45 L631.3,284.89 L632.79,289.46 L634.28,294.16 L635.77,299.01 L637.26,304.03 L638.75,309.22 L640.24,314.6 L641.73,320.18 L643.22,325.98 L644.71,332 L646.2,338.25 L647.69,344.75 L649.18,351.51 L650.67,358.52 L652.16,365.81 L653.65,373.38 L655.15,381.24 L656.64,389.37 L658.13,397.76 L659.62,406.39 L661.11,415.23 L662.6,424.26 L664.09,433.44 L665.58,442.72 L667.07,452.06 L668.56,461.4 L670.05,470.71 L671.54,479.94 L673.03,489.03 L674.52,497.95 L676.01,506.64 L677.5,515.07" fill="none" stroke="#7f7a28" stroke-width="2.8" stroke-dasharray="6.5 4.3"/>
</g>
<text x="665.5" y="77" font-size="22" text-anchor="start" font-family="'Liberation Serif', 'Times New Roman', serif" font-style="italic">&#915;</text>
<line x1="615.2" y1="94.4" x2="658" y2="94.4" stroke="#238484" stroke-width="1" stroke-dasharray="5 2 1.2 2"/>
<rect x="631.9" y="87.6" width="13.6" height="13.6" fill="#fff" stroke="#238484" stroke-width="1.3"/>
<rect x="631.25" y="86.95" width="14.9" height="7.7" fill="#238484"/>
<line x1="615.2" y1="119.9" x2="662" y2="119.9" stroke="#444" stroke-width="1" />
<rect x="632.5" y="113.7" width="12.4" height="12.4" fill="#fff" stroke="#000" stroke-width="2.1"/>
<line x1="615.2" y1="145.3" x2="657" y2="145.3" stroke="#c24fae" stroke-width="1" stroke-dasharray="4 3"/>
<path d="M629.95,140.55 L647.45,140.55 L638.7,155.05Z" fill="#fff" stroke="#c24fae" stroke-width="2" stroke-linejoin="miter" />
<line x1="615.2" y1="170.8" x2="658" y2="170.8" stroke="#0b8637" stroke-width="1.1" stroke-dasharray="1.3 2.4"/>
<path d="M638.7,161.8 L647.7,170.8 L638.7,179.8 L629.7,170.8Z" fill="#fff" stroke="#0b8637" stroke-width="2.2" stroke-linejoin="miter" />
<line x1="615.2" y1="196.2" x2="661" y2="196.2" stroke="#7443ba" stroke-width="1" stroke-dasharray="1.2 1.2"/>
<path d="M634.2,187.6 L648.8,196.2 L634.2,204.8Z" fill="#fff" stroke="#7443ba" stroke-width="2.1" stroke-linejoin="miter" />
<line x1="615.2" y1="221.6" x2="662" y2="221.6" stroke="#7f7a28" stroke-width="1" stroke-dasharray="1.3 2.2"/>
<path d="M638.7,213.7 L646.69,219.5 L643.64,228.9 L633.76,228.9 L630.71,219.5Z" fill="#fff" stroke="#7f7a28" stroke-width="2.1" stroke-linejoin="miter" />
<text x="666.6" y="102.1" font-size="21.8" text-anchor="start" font-family="'Liberation Sans', Arial, sans-serif">9</text>
<text x="666.6" y="127.6" font-size="21.8" text-anchor="start" font-family="'Liberation Sans', Arial, sans-serif">22</text>
<text x="666.6" y="153" font-size="21.8" text-anchor="start" font-family="'Liberation Sans', Arial, sans-serif">30</text>
<text x="666.6" y="178.5" font-size="21.8" text-anchor="start" font-family="'Liberation Sans', Arial, sans-serif">53</text>
<text x="666.6" y="203.9" font-size="21.8" text-anchor="start" font-family="'Liberation Sans', Arial, sans-serif">63</text>
<text x="666.6" y="229.3" font-size="21.8" text-anchor="start" font-family="'Liberation Sans', Arial, sans-serif">138</text>
<text x="76.6" y="574.6" font-size="30" text-anchor="start" font-family="'Liberation Sans', Arial, sans-serif">2<tspan font-size="35" dx="1.4" dy="4.3">&#215;</tspan><tspan dx="1.0" dy="-4.3">10</tspan><tspan font-size="22" dx="-0.3" dy="-13">0</tspan></text>
<text x="232.6" y="574.6" font-size="30" text-anchor="middle" font-family="'Liberation Sans', Arial, sans-serif">10<tspan font-size="22" dy="-13">1</tspan></text>
<text x="393" y="574.6" font-size="30" text-anchor="middle" font-family="'Liberation Sans', Arial, sans-serif">10<tspan font-size="22" dy="-13">2</tspan></text>
<text x="553.4" y="574.6" font-size="30" text-anchor="middle" font-family="'Liberation Sans', Arial, sans-serif">10<tspan font-size="22" dy="-13">3</tspan></text>
<text x="713.8" y="574.6" font-size="30" text-anchor="middle" font-family="'Liberation Sans', Arial, sans-serif">10<tspan font-size="22" dy="-13">4</tspan></text>
<text x="417.4" y="616.5" font-size="29" text-anchor="middle" font-family="'Liberation Sans', Arial, sans-serif"><tspan font-style="italic">t</tspan> (s)</text>
<text transform="translate(28.0,277.0) rotate(-90)" font-size="29" text-anchor="middle" font-family="'Liberation Sans', Arial, sans-serif"><tspan font-style="italic">F</tspan><tspan font-size="21.5" dy="7.5">s</tspan><tspan dy="-7.5">(k,t) and </tspan><tspan font-style="italic">F</tspan><tspan font-size="21.5" dy="6">s-CR</tspan><tspan dy="-6">(k,t)</tspan></text>
<text x="-1.2" y="30.2" font-size="43" font-weight="bold" font-family="'Liberation Sans', Arial, sans-serif">a</text>
<line x1="926.65" y1="72.6" x2="926.65" y2="98.6" stroke="#d9291c" stroke-width="2.8" />
<line x1="921.15" y1="72.6" x2="932.15" y2="72.6" stroke="#d9291c" stroke-width="3" stroke-linecap="round"/>
<line x1="921.15" y1="98.6" x2="932.15" y2="98.6" stroke="#d9291c" stroke-width="3" stroke-linecap="round"/>
<circle cx="926.65" cy="85.6" r="8.6" fill="#d9291c"/>
<line x1="1045.75" y1="264.4" x2="1045.75" y2="308.2" stroke="#d9291c" stroke-width="2.8" />
<line x1="1040.25" y1="264.4" x2="1051.25" y2="264.4" stroke="#d9291c" stroke-width="3" stroke-linecap="round"/>
<line x1="1040.25" y1="308.2" x2="1051.25" y2="308.2" stroke="#d9291c" stroke-width="3" stroke-linecap="round"/>
<circle cx="1045.75" cy="286.3" r="8.6" fill="#d9291c"/>
<line x1="1082.39" y1="336.2" x2="1082.39" y2="370.5" stroke="#d9291c" stroke-width="2.8" />
<line x1="1076.89" y1="336.2" x2="1087.89" y2="336.2" stroke="#d9291c" stroke-width="3" stroke-linecap="round"/>
<line x1="1076.89" y1="370.5" x2="1087.89" y2="370.5" stroke="#d9291c" stroke-width="3" stroke-linecap="round"/>
<circle cx="1082.39" cy="353.6" r="8.6" fill="#d9291c"/>
<line x1="1100.72" y1="377.1" x2="1100.72" y2="411.8" stroke="#d9291c" stroke-width="2.8" />
<line x1="1095.22" y1="377.1" x2="1106.22" y2="377.1" stroke="#d9291c" stroke-width="3" stroke-linecap="round"/>
<line x1="1095.22" y1="411.8" x2="1106.22" y2="411.8" stroke="#d9291c" stroke-width="3" stroke-linecap="round"/>
<circle cx="1100.72" cy="394.9" r="8.6" fill="#d9291c"/>
<line x1="1119.04" y1="354" x2="1119.04" y2="387.5" stroke="#d9291c" stroke-width="2.8" />
<line x1="1113.54" y1="354" x2="1124.54" y2="354" stroke="#d9291c" stroke-width="3" stroke-linecap="round"/>
<line x1="1113.54" y1="387.5" x2="1124.54" y2="387.5" stroke="#d9291c" stroke-width="3" stroke-linecap="round"/>
<circle cx="1119.04" cy="371.3" r="8.6" fill="#d9291c"/>
<line x1="1228.98" y1="366" x2="1228.98" y2="395.7" stroke="#d9291c" stroke-width="2.8" />
<line x1="1223.48" y1="366" x2="1234.48" y2="366" stroke="#d9291c" stroke-width="3" stroke-linecap="round"/>
<line x1="1223.48" y1="395.7" x2="1234.48" y2="395.7" stroke="#d9291c" stroke-width="3" stroke-linecap="round"/>
<circle cx="1228.98" cy="381.3" r="8.6" fill="#d9291c"/>
<line x1="1329.75" y1="381.3" x2="1329.75" y2="425.5" stroke="#d9291c" stroke-width="2.8" />
<line x1="1324.25" y1="381.3" x2="1335.25" y2="381.3" stroke="#d9291c" stroke-width="3" stroke-linecap="round"/>
<line x1="1324.25" y1="425.5" x2="1335.25" y2="425.5" stroke="#d9291c" stroke-width="3" stroke-linecap="round"/>
<circle cx="1329.75" cy="403.6" r="8.6" fill="#d9291c"/>
<line x1="1384.72" y1="439.1" x2="1384.72" y2="459.3" stroke="#d9291c" stroke-width="2.8" />
<line x1="1379.22" y1="439.1" x2="1390.22" y2="439.1" stroke="#d9291c" stroke-width="3" stroke-linecap="round"/>
<line x1="1379.22" y1="459.3" x2="1390.22" y2="459.3" stroke="#d9291c" stroke-width="3" stroke-linecap="round"/>
<circle cx="1384.72" cy="449.4" r="8.6" fill="#d9291c"/>
<line x1="1421.37" y1="447.4" x2="1421.37" y2="475.4" stroke="#d9291c" stroke-width="2.8" />
<line x1="1415.87" y1="447.4" x2="1426.87" y2="447.4" stroke="#d9291c" stroke-width="3" stroke-linecap="round"/>
<line x1="1415.87" y1="475.4" x2="1426.87" y2="475.4" stroke="#d9291c" stroke-width="3" stroke-linecap="round"/>
<circle cx="1421.37" cy="461.8" r="8.6" fill="#d9291c"/>
<line x1="1430.53" y1="487.8" x2="1430.53" y2="507.7" stroke="#d9291c" stroke-width="2.8" />
<line x1="1425.03" y1="487.8" x2="1436.03" y2="487.8" stroke="#d9291c" stroke-width="3" stroke-linecap="round"/>
<line x1="1425.03" y1="507.7" x2="1436.03" y2="507.7" stroke="#d9291c" stroke-width="3" stroke-linecap="round"/>
<circle cx="1430.53" cy="497.7" r="8.6" fill="#d9291c"/>
<rect x="890" y="33" width="595.5" height="489" fill="none" stroke="#000" stroke-width="2"/>
<line x1="879" y1="522" x2="890" y2="522" stroke="#000" stroke-width="2" />
<line x1="1474.5" y1="522" x2="1485.5" y2="522" stroke="#000" stroke-width="2" />
<text transform="translate(867.3,531.8) scale(1,1.06)" x="0" y="0" font-size="30" text-anchor="end" font-family="'Liberation Sans', Arial, sans-serif">0.5</text>
<line x1="884" y1="473.1" x2="890" y2="473.1" stroke="#000" stroke-width="2" />
<line x1="1479.5" y1="473.1" x2="1485.5" y2="473.1" stroke="#000" stroke-width="2" />
<line x1="879" y1="424.2" x2="890" y2="424.2" stroke="#000" stroke-width="2" />
<line x1="1474.5" y1="424.2" x2="1485.5" y2="424.2" stroke="#000" stroke-width="2" />
<text transform="translate(867.3,434) scale(1,1.06)" x="0" y="0" font-size="30" text-anchor="end" font-family="'Liberation Sans', Arial, sans-serif">0.6</text>
<line x1="884" y1="375.3" x2="890" y2="375.3" stroke="#000" stroke-width="2" />
<line x1="1479.5" y1="375.3" x2="1485.5" y2="375.3" stroke="#000" stroke-width="2" />
<line x1="879" y1="326.4" x2="890" y2="326.4" stroke="#000" stroke-width="2" />
<line x1="1474.5" y1="326.4" x2="1485.5" y2="326.4" stroke="#000" stroke-width="2" />
<text transform="translate(867.3,336.2) scale(1,1.06)" x="0" y="0" font-size="30" text-anchor="end" font-family="'Liberation Sans', Arial, sans-serif">0.7</text>
<line x1="884" y1="277.5" x2="890" y2="277.5" stroke="#000" stroke-width="2" />
<line x1="1479.5" y1="277.5" x2="1485.5" y2="277.5" stroke="#000" stroke-width="2" />
<line x1="879" y1="228.6" x2="890" y2="228.6" stroke="#000" stroke-width="2" />
<line x1="1474.5" y1="228.6" x2="1485.5" y2="228.6" stroke="#000" stroke-width="2" />
<text transform="translate(867.3,238.4) scale(1,1.06)" x="0" y="0" font-size="30" text-anchor="end" font-family="'Liberation Sans', Arial, sans-serif">0.8</text>
<line x1="884" y1="179.7" x2="890" y2="179.7" stroke="#000" stroke-width="2" />
<line x1="1479.5" y1="179.7" x2="1485.5" y2="179.7" stroke="#000" stroke-width="2" />
<line x1="879" y1="130.8" x2="890" y2="130.8" stroke="#000" stroke-width="2" />
<line x1="1474.5" y1="130.8" x2="1485.5" y2="130.8" stroke="#000" stroke-width="2" />
<text transform="translate(867.3,140.6) scale(1,1.06)" x="0" y="0" font-size="30" text-anchor="end" font-family="'Liberation Sans', Arial, sans-serif">0.9</text>
<line x1="884" y1="81.9" x2="890" y2="81.9" stroke="#000" stroke-width="2" />
<line x1="1479.5" y1="81.9" x2="1485.5" y2="81.9" stroke="#000" stroke-width="2" />
<line x1="879" y1="33" x2="890" y2="33" stroke="#000" stroke-width="2" />
<line x1="1474.5" y1="33" x2="1485.5" y2="33" stroke="#000" stroke-width="2" />
<text transform="translate(867.3,42.8) scale(1,1.06)" x="0" y="0" font-size="30" text-anchor="end" font-family="'Liberation Sans', Arial, sans-serif">1.0</text>
<line x1="890" y1="522" x2="890" y2="527.5" stroke="#000" stroke-width="2" />
<line x1="890" y1="33" x2="890" y2="38.5" stroke="#000" stroke-width="2" />
<line x1="935.81" y1="522" x2="935.81" y2="532" stroke="#000" stroke-width="2" />
<line x1="935.81" y1="33" x2="935.81" y2="43" stroke="#000" stroke-width="2" />
<text transform="translate(935.81,566) scale(1,1.06)" x="0" y="0" font-size="30" text-anchor="middle" font-family="'Liberation Sans', Arial, sans-serif">10</text>
<line x1="981.62" y1="522" x2="981.62" y2="527.5" stroke="#000" stroke-width="2" />
<line x1="981.62" y1="33" x2="981.62" y2="38.5" stroke="#000" stroke-width="2" />
<line x1="1027.42" y1="522" x2="1027.42" y2="532" stroke="#000" stroke-width="2" />
<line x1="1027.42" y1="33" x2="1027.42" y2="43" stroke="#000" stroke-width="2" />
<text transform="translate(1027.42,566) scale(1,1.06)" x="0" y="0" font-size="30" text-anchor="middle" font-family="'Liberation Sans', Arial, sans-serif">20</text>
<line x1="1073.23" y1="522" x2="1073.23" y2="527.5" stroke="#000" stroke-width="2" />
<line x1="1073.23" y1="33" x2="1073.23" y2="38.5" stroke="#000" stroke-width="2" />
<line x1="1119.04" y1="522" x2="1119.04" y2="532" stroke="#000" stroke-width="2" />
<line x1="1119.04" y1="33" x2="1119.04" y2="43" stroke="#000" stroke-width="2" />
<text transform="translate(1119.04,566) scale(1,1.06)" x="0" y="0" font-size="30" text-anchor="middle" font-family="'Liberation Sans', Arial, sans-serif">30</text>
<line x1="1164.85" y1="522" x2="1164.85" y2="527.5" stroke="#000" stroke-width="2" />
<line x1="1164.85" y1="33" x2="1164.85" y2="38.5" stroke="#000" stroke-width="2" />
<line x1="1210.65" y1="522" x2="1210.65" y2="532" stroke="#000" stroke-width="2" />
<line x1="1210.65" y1="33" x2="1210.65" y2="43" stroke="#000" stroke-width="2" />
<text transform="translate(1210.65,566) scale(1,1.06)" x="0" y="0" font-size="30" text-anchor="middle" font-family="'Liberation Sans', Arial, sans-serif">40</text>
<line x1="1256.46" y1="522" x2="1256.46" y2="527.5" stroke="#000" stroke-width="2" />
<line x1="1256.46" y1="33" x2="1256.46" y2="38.5" stroke="#000" stroke-width="2" />
<line x1="1302.27" y1="522" x2="1302.27" y2="532" stroke="#000" stroke-width="2" />
<line x1="1302.27" y1="33" x2="1302.27" y2="43" stroke="#000" stroke-width="2" />
<text transform="translate(1302.27,566) scale(1,1.06)" x="0" y="0" font-size="30" text-anchor="middle" font-family="'Liberation Sans', Arial, sans-serif">50</text>
<line x1="1348.08" y1="522" x2="1348.08" y2="527.5" stroke="#000" stroke-width="2" />
<line x1="1348.08" y1="33" x2="1348.08" y2="38.5" stroke="#000" stroke-width="2" />
<line x1="1393.88" y1="522" x2="1393.88" y2="532" stroke="#000" stroke-width="2" />
<line x1="1393.88" y1="33" x2="1393.88" y2="43" stroke="#000" stroke-width="2" />
<text transform="translate(1393.88,566) scale(1,1.06)" x="0" y="0" font-size="30" text-anchor="middle" font-family="'Liberation Sans', Arial, sans-serif">60</text>
<line x1="1439.69" y1="522" x2="1439.69" y2="527.5" stroke="#000" stroke-width="2" />
<line x1="1439.69" y1="33" x2="1439.69" y2="38.5" stroke="#000" stroke-width="2" />
<line x1="1485.5" y1="522" x2="1485.5" y2="532" stroke="#000" stroke-width="2" />
<line x1="1485.5" y1="33" x2="1485.5" y2="43" stroke="#000" stroke-width="2" />
<text transform="translate(1485.5,566) scale(1,1.06)" x="0" y="0" font-size="30" text-anchor="middle" font-family="'Liberation Sans', Arial, sans-serif">70</text>
<text x="1188" y="615.5" font-size="30" text-anchor="middle" font-family="'Liberation Serif', 'Times New Roman', serif" font-style="italic">&#915;</text>
<text transform="translate(800,282) rotate(-90)" font-size="29" text-anchor="middle" font-family="'Liberation Serif', 'Times New Roman', serif" font-style="italic">&#946;</text>
<text x="774.2" y="30.7" font-size="42.5" font-weight="bold" font-family="'Liberation Sans', Arial, sans-serif">b</text>
<g clip-path="url(#cc)">
<circle cx="878.36" cy="914" r="14.2" fill="#d9291c"/>
<circle cx="984.18" cy="1159.6" r="14.2" fill="#d9291c"/>
<circle cx="1054.74" cy="1258.8" r="14.2" fill="#d9291c"/>
<circle cx="1072.37" cy="1291" r="14.2" fill="#d9291c"/>
<path d="M455.59,736.7 L489.79,736.7 L472.69,707.1Z" fill="#404ca8" stroke="none" stroke-width="0" stroke-linejoin="miter" />
<path d="M861.26,1151.3 L895.46,1151.3 L878.36,1121.7Z" fill="#404ca8" stroke="none" stroke-width="0" stroke-linejoin="miter" />
<path d="M967.08,1239.5 L1001.28,1239.5 L984.18,1209.9Z" fill="#404ca8" stroke="none" stroke-width="0" stroke-linejoin="miter" />
<path d="M1037.64,1305.5 L1071.84,1305.5 L1054.74,1275.9Z" fill="#404ca8" stroke="none" stroke-width="0" stroke-linejoin="miter" />
<path d="M1055.27,1316.5 L1089.47,1316.5 L1072.37,1286.9Z" fill="#404ca8" stroke="none" stroke-width="0" stroke-linejoin="miter" />
<path d="M455.59,842.1 L489.79,842.1 L472.69,871.7Z" fill="#c44faa" stroke="none" stroke-width="0" stroke-linejoin="miter" />
<path d="M861.26,1176.4 L895.46,1176.4 L878.36,1206Z" fill="#c44faa" stroke="none" stroke-width="0" stroke-linejoin="miter" />
<path d="M967.08,1237.9 L1001.28,1237.9 L984.18,1267.5Z" fill="#c44faa" stroke="none" stroke-width="0" stroke-linejoin="miter" />
<path d="M1037.64,1293.6 L1071.84,1293.6 L1054.74,1323.2Z" fill="#c44faa" stroke="none" stroke-width="0" stroke-linejoin="miter" />
<path d="M1055.27,1305 L1089.47,1305 L1072.37,1334.6Z" fill="#c44faa" stroke="none" stroke-width="0" stroke-linejoin="miter" />
<path d="M472.69,982 L490.19,999.2 L472.69,1016.4 L455.19,999.2Z" fill="#0a8837" stroke="none" stroke-width="0" stroke-linejoin="miter" />
<path d="M878.36,1209.7 L895.86,1226.9 L878.36,1244.1 L860.86,1226.9Z" fill="#0a8837" stroke="none" stroke-width="0" stroke-linejoin="miter" />
<path d="M984.18,1246.3 L1001.68,1263.5 L984.18,1280.7 L966.68,1263.5Z" fill="#0a8837" stroke="none" stroke-width="0" stroke-linejoin="miter" />
<path d="M1054.74,1287.8 L1072.24,1305 L1054.74,1322.2 L1037.24,1305Z" fill="#0a8837" stroke="none" stroke-width="0" stroke-linejoin="miter" />
<path d="M1072.37,1296.8 L1089.87,1314 L1072.37,1331.2 L1054.87,1314Z" fill="#0a8837" stroke="none" stroke-width="0" stroke-linejoin="miter" />
<path d="M462.69,1088 L491.69,1104.5 L462.69,1121Z" fill="#7c4ab4" stroke="none" stroke-width="0" stroke-linejoin="miter" />
<path d="M868.36,1237.5 L897.36,1254 L868.36,1270.5Z" fill="#7c4ab4" stroke="none" stroke-width="0" stroke-linejoin="miter" />
<path d="M974.18,1261.5 L1003.18,1278 L974.18,1294.5Z" fill="#7c4ab4" stroke="none" stroke-width="0" stroke-linejoin="miter" />
<path d="M1044.74,1295.5 L1073.74,1312 L1044.74,1328.5Z" fill="#7c4ab4" stroke="none" stroke-width="0" stroke-linejoin="miter" />
<path d="M1062.37,1307 L1091.37,1323.5 L1062.37,1340Z" fill="#7c4ab4" stroke="none" stroke-width="0" stroke-linejoin="miter" />
<path d="M472.69,1151.5 L486.19,1159.25 L486.19,1174.75 L472.69,1182.5 L459.19,1174.75 L459.19,1159.25Z" fill="#861e98" stroke="none" stroke-width="0" stroke-linejoin="miter" />
<path d="M878.36,1260.8 L891.86,1268.55 L891.86,1284.05 L878.36,1291.8 L864.86,1284.05 L864.86,1268.55Z" fill="#861e98" stroke="none" stroke-width="0" stroke-linejoin="miter" />
<path d="M984.18,1282.5 L997.68,1290.25 L997.68,1305.75 L984.18,1313.5 L970.68,1305.75 L970.68,1290.25Z" fill="#861e98" stroke="none" stroke-width="0" stroke-linejoin="miter" />
<path d="M1054.74,1308.3 L1068.24,1316.05 L1068.24,1331.55 L1054.74,1339.3 L1041.24,1331.55 L1041.24,1316.05Z" fill="#861e98" stroke="none" stroke-width="0" stroke-linejoin="miter" />
<path d="M1072.37,1311.7 L1085.87,1319.45 L1085.87,1334.95 L1072.37,1342.7 L1058.87,1334.95 L1058.87,1319.45Z" fill="#861e98" stroke="none" stroke-width="0" stroke-linejoin="miter" />
<line x1="483.5" y1="741.2" x2="1105.7" y2="1348.6" stroke="#404ca8" stroke-width="3.6" stroke-dasharray="17 24.4" stroke-linecap="round"/>
<line x1="491.4" y1="871.9" x2="1105" y2="1345.4" stroke="#c44faa" stroke-width="3.5" stroke-dasharray="2.1 20.1" stroke-linecap="round"/>
<line x1="493.5" y1="1013.5" x2="1128" y2="1349" stroke="#0a8837" stroke-width="3.7" stroke-dasharray="17.4 10.9 2.8 10.4" stroke-linecap="round"/>
<line x1="486.8" y1="1108.8" x2="1139" y2="1348.2" stroke="#84199a" stroke-width="3.7" stroke-dasharray="11 10 3 10 3 10.8" stroke-dashoffset="22.3" stroke-linecap="round"/>
<line x1="472.3" y1="1167" x2="1160" y2="1349" stroke="#7b1a1a" stroke-width="4.3" stroke-dasharray="4 9.8" stroke-linecap="round"/>
<line x1="878.2" y1="914" x2="1090" y2="1333" stroke="#d9291c" stroke-width="4" />
</g>
<line x1="1131.4" y1="701.2" x2="1131" y2="1348" stroke="#000" stroke-width="4.5" stroke-dasharray="8.6 12.1 0.01 12.1 0.01 11.9" stroke-linecap="round"/>
<rect x="384.5" y="698" width="793.7" height="650.6" fill="none" stroke="#000" stroke-width="2"/>
<line x1="367.5" y1="1348.6" x2="384.5" y2="1348.6" stroke="#000" stroke-width="2" />
<line x1="1161.2" y1="1348.6" x2="1178.2" y2="1348.6" stroke="#000" stroke-width="2" />
<text transform="translate(356.3,1358.8) scale(1,1.06)" x="0" y="0" font-size="30" text-anchor="end" font-family="'Liberation Sans', Arial, sans-serif">0.0</text>
<line x1="375.5" y1="1283.54" x2="384.5" y2="1283.54" stroke="#000" stroke-width="2" />
<line x1="1169.2" y1="1283.54" x2="1178.2" y2="1283.54" stroke="#000" stroke-width="2" />
<line x1="367.5" y1="1218.48" x2="384.5" y2="1218.48" stroke="#000" stroke-width="2" />
<line x1="1161.2" y1="1218.48" x2="1178.2" y2="1218.48" stroke="#000" stroke-width="2" />
<text transform="translate(356.3,1228.68) scale(1,1.06)" x="0" y="0" font-size="30" text-anchor="end" font-family="'Liberation Sans', Arial, sans-serif">0.1</text>
<line x1="375.5" y1="1153.42" x2="384.5" y2="1153.42" stroke="#000" stroke-width="2" />
<line x1="1169.2" y1="1153.42" x2="1178.2" y2="1153.42" stroke="#000" stroke-width="2" />
<line x1="367.5" y1="1088.36" x2="384.5" y2="1088.36" stroke="#000" stroke-width="2" />
<line x1="1161.2" y1="1088.36" x2="1178.2" y2="1088.36" stroke="#000" stroke-width="2" />
<text transform="translate(356.3,1098.56) scale(1,1.06)" x="0" y="0" font-size="30" text-anchor="end" font-family="'Liberation Sans', Arial, sans-serif">0.2</text>
<line x1="375.5" y1="1023.3" x2="384.5" y2="1023.3" stroke="#000" stroke-width="2" />
<line x1="1169.2" y1="1023.3" x2="1178.2" y2="1023.3" stroke="#000" stroke-width="2" />
<line x1="367.5" y1="958.24" x2="384.5" y2="958.24" stroke="#000" stroke-width="2" />
<line x1="1161.2" y1="958.24" x2="1178.2" y2="958.24" stroke="#000" stroke-width="2" />
<text transform="translate(356.3,968.44) scale(1,1.06)" x="0" y="0" font-size="30" text-anchor="end" font-family="'Liberation Sans', Arial, sans-serif">0.3</text>
<line x1="375.5" y1="893.18" x2="384.5" y2="893.18" stroke="#000" stroke-width="2" />
<line x1="1169.2" y1="893.18" x2="1178.2" y2="893.18" stroke="#000" stroke-width="2" />
<line x1="367.5" y1="828.12" x2="384.5" y2="828.12" stroke="#000" stroke-width="2" />
<line x1="1161.2" y1="828.12" x2="1178.2" y2="828.12" stroke="#000" stroke-width="2" />
<text transform="translate(356.3,838.32) scale(1,1.06)" x="0" y="0" font-size="30" text-anchor="end" font-family="'Liberation Sans', Arial, sans-serif">0.4</text>
<line x1="375.5" y1="763.06" x2="384.5" y2="763.06" stroke="#000" stroke-width="2" />
<line x1="1169.2" y1="763.06" x2="1178.2" y2="763.06" stroke="#000" stroke-width="2" />
<line x1="367.5" y1="698" x2="384.5" y2="698" stroke="#000" stroke-width="2" />
<line x1="1161.2" y1="698" x2="1178.2" y2="698" stroke="#000" stroke-width="2" />
<text transform="translate(356.3,708.2) scale(1,1.06)" x="0" y="0" font-size="30" text-anchor="end" font-family="'Liberation Sans', Arial, sans-serif">0.5</text>
<line x1="384.5" y1="1348.6" x2="384.5" y2="1364.6" stroke="#000" stroke-width="2" />
<text transform="translate(384.5,1399.6) scale(1,1.06)" x="0" y="0" font-size="30" text-anchor="middle" font-family="'Liberation Sans', Arial, sans-serif">25</text>
<line x1="428.59" y1="1348.6" x2="428.59" y2="1356.6" stroke="#000" stroke-width="2" />
<line x1="472.69" y1="1348.6" x2="472.69" y2="1364.6" stroke="#000" stroke-width="2" />
<text transform="translate(472.69,1399.6) scale(1,1.06)" x="0" y="0" font-size="30" text-anchor="middle" font-family="'Liberation Sans', Arial, sans-serif">30</text>
<line x1="516.78" y1="1348.6" x2="516.78" y2="1356.6" stroke="#000" stroke-width="2" />
<line x1="560.88" y1="1348.6" x2="560.88" y2="1364.6" stroke="#000" stroke-width="2" />
<text transform="translate(560.88,1399.6) scale(1,1.06)" x="0" y="0" font-size="30" text-anchor="middle" font-family="'Liberation Sans', Arial, sans-serif">35</text>
<line x1="604.97" y1="1348.6" x2="604.97" y2="1356.6" stroke="#000" stroke-width="2" />
<line x1="649.07" y1="1348.6" x2="649.07" y2="1364.6" stroke="#000" stroke-width="2" />
<text transform="translate(649.07,1399.6) scale(1,1.06)" x="0" y="0" font-size="30" text-anchor="middle" font-family="'Liberation Sans', Arial, sans-serif">40</text>
<line x1="693.16" y1="1348.6" x2="693.16" y2="1356.6" stroke="#000" stroke-width="2" />
<line x1="737.26" y1="1348.6" x2="737.26" y2="1364.6" stroke="#000" stroke-width="2" />
<text transform="translate(737.26,1399.6) scale(1,1.06)" x="0" y="0" font-size="30" text-anchor="middle" font-family="'Liberation Sans', Arial, sans-serif">45</text>
<line x1="781.35" y1="1348.6" x2="781.35" y2="1356.6" stroke="#000" stroke-width="2" />
<line x1="825.44" y1="1348.6" x2="825.44" y2="1364.6" stroke="#000" stroke-width="2" />
<text transform="translate(825.44,1399.6) scale(1,1.06)" x="0" y="0" font-size="30" text-anchor="middle" font-family="'Liberation Sans', Arial, sans-serif">50</text>
<line x1="869.54" y1="1348.6" x2="869.54" y2="1356.6" stroke="#000" stroke-width="2" />
<line x1="913.63" y1="1348.6" x2="913.63" y2="1364.6" stroke="#000" stroke-width="2" />
<text transform="translate(913.63,1399.6) scale(1,1.06)" x="0" y="0" font-size="30" text-anchor="middle" font-family="'Liberation Sans', Arial, sans-serif">55</text>
<line x1="957.73" y1="1348.6" x2="957.73" y2="1356.6" stroke="#000" stroke-width="2" />
<line x1="1001.82" y1="1348.6" x2="1001.82" y2="1364.6" stroke="#000" stroke-width="2" />
<text transform="translate(1001.82,1399.6) scale(1,1.06)" x="0" y="0" font-size="30" text-anchor="middle" font-family="'Liberation Sans', Arial, sans-serif">60</text>
<line x1="1045.92" y1="1348.6" x2="1045.92" y2="1356.6" stroke="#000" stroke-width="2" />
<line x1="1090.01" y1="1348.6" x2="1090.01" y2="1364.6" stroke="#000" stroke-width="2" />
<text transform="translate(1090.01,1399.6) scale(1,1.06)" x="0" y="0" font-size="30" text-anchor="middle" font-family="'Liberation Sans', Arial, sans-serif">65</text>
<line x1="1134.11" y1="1348.6" x2="1134.11" y2="1356.6" stroke="#000" stroke-width="2" />
<line x1="1178.2" y1="1348.6" x2="1178.2" y2="1364.6" stroke="#000" stroke-width="2" />
<text transform="translate(1178.2,1399.6) scale(1,1.06)" x="0" y="0" font-size="30" text-anchor="middle" font-family="'Liberation Sans', Arial, sans-serif">70</text>
<line x1="384.5" y1="698" x2="384.5" y2="707" stroke="#000" stroke-width="2" />
<line x1="472.69" y1="698" x2="472.69" y2="715" stroke="#000" stroke-width="2" />
<line x1="560.88" y1="698" x2="560.88" y2="707" stroke="#000" stroke-width="2" />
<line x1="649.07" y1="698" x2="649.07" y2="715" stroke="#000" stroke-width="2" />
<line x1="737.26" y1="698" x2="737.26" y2="707" stroke="#000" stroke-width="2" />
<line x1="825.44" y1="698" x2="825.44" y2="715" stroke="#000" stroke-width="2" />
<line x1="913.63" y1="698" x2="913.63" y2="707" stroke="#000" stroke-width="2" />
<line x1="1001.82" y1="698" x2="1001.82" y2="715" stroke="#000" stroke-width="2" />
<line x1="1090.01" y1="698" x2="1090.01" y2="707" stroke="#000" stroke-width="2" />
<line x1="1178.2" y1="698" x2="1178.2" y2="715" stroke="#000" stroke-width="2" />
<text x="782" y="1440" font-size="30" text-anchor="middle" font-family="'Liberation Serif', 'Times New Roman', serif" font-style="italic">&#915;</text>
<g transform="translate(279.8,1049.5) rotate(-90)"><text x="0" y="0" font-size="29" text-anchor="start" font-family="'Liberation Serif', 'Times New Roman', serif" font-style="italic">&#964;</text><text x="11.8" y="-13.8" font-size="21.5" text-anchor="start" font-family="'Liberation Sans', Arial, sans-serif">&#8722;1/<tspan font-family="'Liberation Serif', 'Times New Roman', serif" font-style="italic">&#947;</tspan></text><text x="11.5" y="16.2" font-size="20.5" text-anchor="start" font-family="'Liberation Sans', Arial, sans-serif">CR</text></g>
<text x="240.3" y="697.3" font-size="42.5" font-weight="bold" font-family="'Liberation Sans', Arial, sans-serif">c</text>
</svg></body></html>
